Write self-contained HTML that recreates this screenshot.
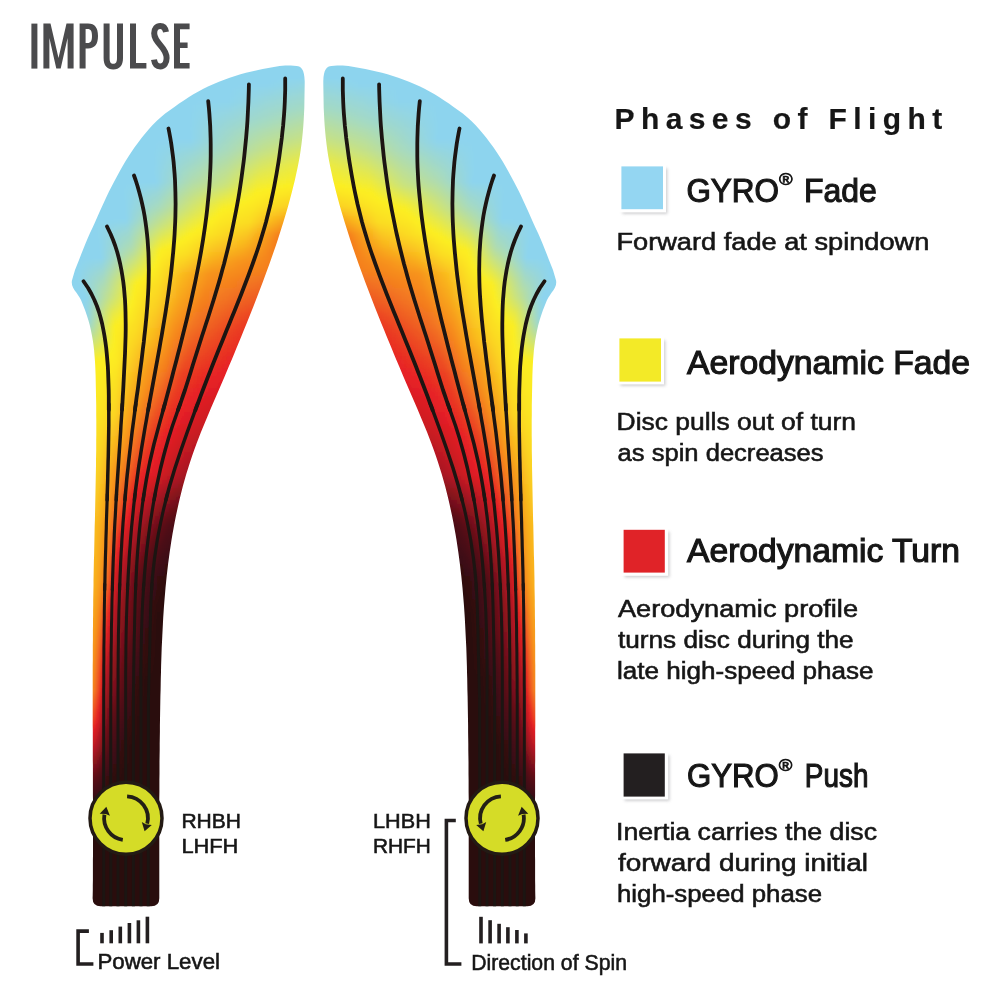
<!DOCTYPE html>
<html lang="en">
<head>
<meta charset="utf-8">
<title>IMPULSE - Phases of Flight</title>
<style>
html,body{margin:0;padding:0;background:#fff;}
body{width:1000px;height:1000px;overflow:hidden;position:relative;font-family:"Liberation Sans",sans-serif;}
svg{position:absolute;left:0;top:0;display:block;}
text{font-family:"Liberation Sans",sans-serif;fill:#161616;stroke:#161616;stroke-width:.55px;}
.b{stroke-width:.2px;}
.h{stroke-width:1.15px;}
.r{stroke-width:.7px;}
.b{font-weight:bold;}
</style>
</head>
<body>
<svg width="1000" height="1000" viewBox="0 0 1000 1000">
<defs>
<linearGradient id="gb" gradientUnits="userSpaceOnUse" x1="50" y1="0" x2="330" y2="0"/>
<linearGradient id="g5" href="#gb"><stop offset="0.0285" stop-color="#8dd4ee"/><stop offset="0.7752" stop-color="#8dd4ee"/><stop offset="0.8748" stop-color="#90d5e9"/><stop offset="0.9095" stop-color="#91d5e7"/><stop offset="0.9595" stop-color="#91d5e7"/></linearGradient>
<linearGradient id="g6" href="#gb"><stop offset="0.0285" stop-color="#8dd4ee"/><stop offset="0.6376" stop-color="#8dd4ee"/><stop offset="0.7752" stop-color="#8ed4ec"/><stop offset="0.8748" stop-color="#93d5e4"/><stop offset="0.9095" stop-color="#94d6e1"/><stop offset="0.9595" stop-color="#94d6e1"/></linearGradient>
<linearGradient id="g7" href="#gb"><stop offset="0.0285" stop-color="#8dd4ee"/><stop offset="0.6375" stop-color="#8dd4ee"/><stop offset="0.7749" stop-color="#91d5e7"/><stop offset="0.8746" stop-color="#95d6df"/><stop offset="0.9094" stop-color="#97d6dc"/><stop offset="0.9594" stop-color="#97d6dc"/></linearGradient>
<linearGradient id="g8" href="#gb"><stop offset="0.0285" stop-color="#8dd4ee"/><stop offset="0.6373" stop-color="#8dd4ee"/><stop offset="0.7746" stop-color="#93d5e3"/><stop offset="0.8744" stop-color="#98d7da"/><stop offset="0.9092" stop-color="#9ad7d6"/><stop offset="0.9592" stop-color="#9ad7d6"/></linearGradient>
<linearGradient id="g9" href="#gb"><stop offset="0.0285" stop-color="#8dd4ee"/><stop offset="0.637" stop-color="#8dd4ee"/><stop offset="0.7741" stop-color="#96d6de"/><stop offset="0.874" stop-color="#9bd7d4"/><stop offset="0.909" stop-color="#9dd8d1"/><stop offset="0.959" stop-color="#9dd8d1"/></linearGradient>
<linearGradient id="g10" href="#gb"><stop offset="0.0285" stop-color="#8dd4ee"/><stop offset="0.4943" stop-color="#8dd4ee"/><stop offset="0.6369" stop-color="#8ed4ec"/><stop offset="0.7735" stop-color="#98d7da"/><stop offset="0.8736" stop-color="#9ed8cf"/><stop offset="0.9087" stop-color="#a0d8cc"/><stop offset="0.9587" stop-color="#a0d8cc"/></linearGradient>
<linearGradient id="g11" href="#gb"><stop offset="0.0285" stop-color="#8dd4ee"/><stop offset="0.495" stop-color="#8dd4ee"/><stop offset="0.6374" stop-color="#90d5e8"/><stop offset="0.7729" stop-color="#9bd7d5"/><stop offset="0.873" stop-color="#a0d9ca"/><stop offset="0.9083" stop-color="#a2d9c6"/><stop offset="0.9583" stop-color="#a2d9c6"/></linearGradient>
<linearGradient id="g12" href="#gb"><stop offset="0.0285" stop-color="#8dd4ee"/><stop offset="0.4957" stop-color="#8dd4ee"/><stop offset="0.6377" stop-color="#93d5e4"/><stop offset="0.7721" stop-color="#9dd8d0"/><stop offset="0.8724" stop-color="#a3d9c5"/><stop offset="0.9078" stop-color="#a5dac1"/><stop offset="0.9578" stop-color="#a5dac1"/></linearGradient>
<linearGradient id="g13" href="#gb"><stop offset="0.0285" stop-color="#8dd4ee"/><stop offset="0.4963" stop-color="#8dd4ee"/><stop offset="0.6379" stop-color="#95d6e0"/><stop offset="0.7712" stop-color="#a0d8cc"/><stop offset="0.8716" stop-color="#a7dabd"/><stop offset="0.9072" stop-color="#aadbb8"/><stop offset="0.9572" stop-color="#aadbb8"/></linearGradient>
<linearGradient id="g14" href="#gb"><stop offset="0.0285" stop-color="#8dd4ee"/><stop offset="0.4968" stop-color="#8dd4ee"/><stop offset="0.638" stop-color="#97d6dc"/><stop offset="0.7703" stop-color="#a2d9c7"/><stop offset="0.8707" stop-color="#abdbb6"/><stop offset="0.9065" stop-color="#afdcb0"/><stop offset="0.9565" stop-color="#afdcb0"/></linearGradient>
<linearGradient id="g15" href="#gb"><stop offset="0.0285" stop-color="#8dd4ee"/><stop offset="0.4973" stop-color="#8dd4ee"/><stop offset="0.638" stop-color="#99d7d7"/><stop offset="0.7692" stop-color="#a5dac1"/><stop offset="0.8697" stop-color="#b0dcae"/><stop offset="0.9057" stop-color="#b3dda7"/><stop offset="0.9557" stop-color="#b3dda7"/></linearGradient>
<linearGradient id="g16" href="#gb"><stop offset="0.0285" stop-color="#8dd4ee"/><stop offset="0.4976" stop-color="#8dd4ee"/><stop offset="0.6379" stop-color="#9bd7d3"/><stop offset="0.7681" stop-color="#a9dbba"/><stop offset="0.8685" stop-color="#b4dda6"/><stop offset="0.9047" stop-color="#b7dea0"/><stop offset="0.9547" stop-color="#b7dea0"/></linearGradient>
<linearGradient id="g17" href="#gb"><stop offset="0.0285" stop-color="#8dd4ee"/><stop offset="0.4985" stop-color="#8dd4ee"/><stop offset="0.6377" stop-color="#9ed8cf"/><stop offset="0.7668" stop-color="#aedcb2"/><stop offset="0.8672" stop-color="#b8de9f"/><stop offset="0.9036" stop-color="#bcdf98"/><stop offset="0.9536" stop-color="#bcdf98"/></linearGradient>
<linearGradient id="g18" href="#gb"><stop offset="0.0285" stop-color="#8dd4ee"/><stop offset="0.5001" stop-color="#8dd4ee"/><stop offset="0.6374" stop-color="#a0d8cb"/><stop offset="0.7655" stop-color="#b2ddaa"/><stop offset="0.8658" stop-color="#bcdf97"/><stop offset="0.9023" stop-color="#c0e090"/><stop offset="0.9523" stop-color="#c0e090"/></linearGradient>
<linearGradient id="g19" href="#gb"><stop offset="0.0285" stop-color="#8dd4ee"/><stop offset="0.5016" stop-color="#8dd4ee"/><stop offset="0.637" stop-color="#a2d9c7"/><stop offset="0.764" stop-color="#b6dea3"/><stop offset="0.8643" stop-color="#c0e08f"/><stop offset="0.9008" stop-color="#c4e189"/><stop offset="0.9508" stop-color="#c4e189"/></linearGradient>
<linearGradient id="g20" href="#gb"><stop offset="0.0285" stop-color="#8dd4ee"/><stop offset="0.366" stop-color="#8dd4ee"/><stop offset="0.503" stop-color="#8fd4eb"/><stop offset="0.6365" stop-color="#a4d9c3"/><stop offset="0.7625" stop-color="#badf9b"/><stop offset="0.8626" stop-color="#c5e186"/><stop offset="0.8992" stop-color="#c9e27f"/><stop offset="0.9492" stop-color="#c9e27f"/></linearGradient>
<linearGradient id="g21" href="#gb"><stop offset="0.0285" stop-color="#8dd4ee"/><stop offset="0.3671" stop-color="#8dd4ee"/><stop offset="0.5041" stop-color="#92d5e5"/><stop offset="0.6359" stop-color="#a7dabf"/><stop offset="0.7609" stop-color="#bee093"/><stop offset="0.8608" stop-color="#cbe27c"/><stop offset="0.8974" stop-color="#cfe474"/><stop offset="0.9474" stop-color="#cfe474"/></linearGradient>
<linearGradient id="g22" href="#gb"><stop offset="0.0285" stop-color="#8dd4ee"/><stop offset="0.3682" stop-color="#8dd4ee"/><stop offset="0.5052" stop-color="#95d6df"/><stop offset="0.6352" stop-color="#a9dabb"/><stop offset="0.7592" stop-color="#c2e08c"/><stop offset="0.8588" stop-color="#d0e471"/><stop offset="0.8954" stop-color="#d5e568"/><stop offset="0.9454" stop-color="#d5e568"/></linearGradient>
<linearGradient id="g23" href="#gb"><stop offset="0.0285" stop-color="#8dd4ee"/><stop offset="0.3691" stop-color="#8dd4ee"/><stop offset="0.506" stop-color="#99d7d8"/><stop offset="0.6344" stop-color="#addbb4"/><stop offset="0.7575" stop-color="#c8e282"/><stop offset="0.8567" stop-color="#d6e567"/><stop offset="0.8932" stop-color="#dbe65e"/><stop offset="0.9432" stop-color="#dbe65e"/></linearGradient>
<linearGradient id="g24" href="#gb"><stop offset="0.0285" stop-color="#8dd4ee"/><stop offset="0.3699" stop-color="#8dd4ee"/><stop offset="0.5068" stop-color="#9cd8d2"/><stop offset="0.6334" stop-color="#b0dcad"/><stop offset="0.7556" stop-color="#cde377"/><stop offset="0.8544" stop-color="#dce65c"/><stop offset="0.8908" stop-color="#e1e853"/><stop offset="0.9408" stop-color="#e1e853"/></linearGradient>
<linearGradient id="g25" href="#gb"><stop offset="0.0285" stop-color="#8dd4ee"/><stop offset="0.3707" stop-color="#8dd4ee"/><stop offset="0.5074" stop-color="#9fd8cc"/><stop offset="0.6324" stop-color="#b4dda6"/><stop offset="0.7537" stop-color="#d3e46d"/><stop offset="0.8521" stop-color="#e2e852"/><stop offset="0.8882" stop-color="#e7e948"/><stop offset="0.9382" stop-color="#e7e948"/></linearGradient>
<linearGradient id="g26" href="#gb"><stop offset="0.0285" stop-color="#8dd4ee"/><stop offset="0.3714" stop-color="#8dd4ee"/><stop offset="0.5078" stop-color="#a3d9c6"/><stop offset="0.6313" stop-color="#b8de9f"/><stop offset="0.7517" stop-color="#d8e663"/><stop offset="0.8496" stop-color="#e7e948"/><stop offset="0.8854" stop-color="#ecea3f"/><stop offset="0.9354" stop-color="#ecea3f"/></linearGradient>
<linearGradient id="g27" href="#gb"><stop offset="0.0285" stop-color="#8dd4ee"/><stop offset="0.372" stop-color="#8dd4ee"/><stop offset="0.5082" stop-color="#a6dac0"/><stop offset="0.6301" stop-color="#bcdf98"/><stop offset="0.7496" stop-color="#dee759"/><stop offset="0.8469" stop-color="#eaea41"/><stop offset="0.8825" stop-color="#efeb39"/><stop offset="0.9325" stop-color="#efeb39"/></linearGradient>
<linearGradient id="g28" href="#gb"><stop offset="0.0285" stop-color="#8dd4ee"/><stop offset="0.3725" stop-color="#8dd4ee"/><stop offset="0.5084" stop-color="#a9dbba"/><stop offset="0.6288" stop-color="#c0e091"/><stop offset="0.7474" stop-color="#e3e84f"/><stop offset="0.8442" stop-color="#eeeb3a"/><stop offset="0.8795" stop-color="#f2ec33"/><stop offset="0.9295" stop-color="#f2ec33"/></linearGradient>
<linearGradient id="g29" href="#gb"><stop offset="0.0285" stop-color="#8dd4ee"/><stop offset="0.3745" stop-color="#8dd4ee"/><stop offset="0.5084" stop-color="#addbb4"/><stop offset="0.6274" stop-color="#c3e18a"/><stop offset="0.7451" stop-color="#e8e945"/><stop offset="0.8413" stop-color="#f2ec34"/><stop offset="0.8763" stop-color="#f5ec2d"/><stop offset="0.9263" stop-color="#f5ec2d"/></linearGradient>
<linearGradient id="g30" href="#gb"><stop offset="0.0285" stop-color="#8dd4ee"/><stop offset="0.3773" stop-color="#8dd4ee"/><stop offset="0.5084" stop-color="#b1dcac"/><stop offset="0.626" stop-color="#c7e283"/><stop offset="0.7428" stop-color="#eeeb3b"/><stop offset="0.8383" stop-color="#f6ed2d"/><stop offset="0.8729" stop-color="#f8ed28"/><stop offset="0.9229" stop-color="#f8ed28"/></linearGradient>
<linearGradient id="g31" href="#gb"><stop offset="0.0285" stop-color="#8dd4ee"/><stop offset="0.2581" stop-color="#8dd4ee"/><stop offset="0.3799" stop-color="#91d5e6"/><stop offset="0.5082" stop-color="#b6dea2"/><stop offset="0.6244" stop-color="#cce379"/><stop offset="0.7403" stop-color="#f3ec31"/><stop offset="0.8352" stop-color="#faee24"/><stop offset="0.8562" stop-color="#fcee21"/><stop offset="0.8694" stop-color="#fced21"/><stop offset="0.9194" stop-color="#fced21"/></linearGradient>
<linearGradient id="g32" href="#gb"><stop offset="0.0285" stop-color="#8dd4ee"/><stop offset="0.2602" stop-color="#8dd4ee"/><stop offset="0.3822" stop-color="#96d6de"/><stop offset="0.5079" stop-color="#bbdf99"/><stop offset="0.6227" stop-color="#d4e56a"/><stop offset="0.7378" stop-color="#f8ed28"/><stop offset="0.7807" stop-color="#fcee21"/><stop offset="0.832" stop-color="#fcea21"/><stop offset="0.8659" stop-color="#fce821"/><stop offset="0.9159" stop-color="#fce821"/></linearGradient>
<linearGradient id="g33" href="#gb"><stop offset="0.0285" stop-color="#8dd4ee"/><stop offset="0.2621" stop-color="#8dd4ee"/><stop offset="0.3844" stop-color="#9ad7d6"/><stop offset="0.5075" stop-color="#c0e08f"/><stop offset="0.621" stop-color="#dde75b"/><stop offset="0.7351" stop-color="#fcee22"/><stop offset="0.7387" stop-color="#fcee21"/><stop offset="0.8287" stop-color="#fce621"/><stop offset="0.8622" stop-color="#fbe321"/><stop offset="0.9122" stop-color="#fbe321"/></linearGradient>
<linearGradient id="g34" href="#gb"><stop offset="0.0285" stop-color="#8dd4ee"/><stop offset="0.264" stop-color="#8dd4ee"/><stop offset="0.3863" stop-color="#9ed8ce"/><stop offset="0.5069" stop-color="#c6e185"/><stop offset="0.6191" stop-color="#e5e94c"/><stop offset="0.72" stop-color="#fcee21"/><stop offset="0.7324" stop-color="#fcec21"/><stop offset="0.8252" stop-color="#fbe121"/><stop offset="0.8583" stop-color="#fbdd20"/><stop offset="0.9083" stop-color="#fbdd20"/></linearGradient>
<linearGradient id="g35" href="#gb"><stop offset="0.0285" stop-color="#8dd4ee"/><stop offset="0.2657" stop-color="#8dd4ee"/><stop offset="0.3881" stop-color="#a2d9c7"/><stop offset="0.5063" stop-color="#cbe27c"/><stop offset="0.6172" stop-color="#edeb3c"/><stop offset="0.6969" stop-color="#fcee21"/><stop offset="0.7296" stop-color="#fce921"/><stop offset="0.8217" stop-color="#fbdc20"/><stop offset="0.8544" stop-color="#fbd820"/><stop offset="0.9044" stop-color="#fbd820"/></linearGradient>
<linearGradient id="g36" href="#gb"><stop offset="0.0285" stop-color="#8dd4ee"/><stop offset="0.2673" stop-color="#8dd4ee"/><stop offset="0.3896" stop-color="#a7dabf"/><stop offset="0.5055" stop-color="#d0e472"/><stop offset="0.6151" stop-color="#f5ec2d"/><stop offset="0.6611" stop-color="#fcee21"/><stop offset="0.7267" stop-color="#fce621"/><stop offset="0.8181" stop-color="#fbd720"/><stop offset="0.8504" stop-color="#fad220"/><stop offset="0.9004" stop-color="#fad220"/></linearGradient>
<linearGradient id="g37" href="#gb"><stop offset="0.0285" stop-color="#8dd4ee"/><stop offset="0.2687" stop-color="#8dd4ee"/><stop offset="0.391" stop-color="#acdbb4"/><stop offset="0.5046" stop-color="#d5e569"/><stop offset="0.613" stop-color="#faee24"/><stop offset="0.6255" stop-color="#fcee21"/><stop offset="0.7236" stop-color="#fbe421"/><stop offset="0.8143" stop-color="#face20"/><stop offset="0.8464" stop-color="#fac620"/><stop offset="0.8964" stop-color="#fac620"/></linearGradient>
<linearGradient id="g38" href="#gb"><stop offset="0.0285" stop-color="#8dd4ee"/><stop offset="0.2701" stop-color="#8dd4ee"/><stop offset="0.3922" stop-color="#b3dda7"/><stop offset="0.5037" stop-color="#dbe65d"/><stop offset="0.604" stop-color="#fcee21"/><stop offset="0.6108" stop-color="#fcec21"/><stop offset="0.7205" stop-color="#fbe121"/><stop offset="0.8105" stop-color="#fac420"/><stop offset="0.8422" stop-color="#f9ba1f"/><stop offset="0.8922" stop-color="#f9ba1f"/></linearGradient>
<linearGradient id="g39" href="#gb"><stop offset="0.0285" stop-color="#8dd4ee"/><stop offset="0.2713" stop-color="#8dd4ee"/><stop offset="0.3933" stop-color="#badf9a"/><stop offset="0.5026" stop-color="#e2e852"/><stop offset="0.5888" stop-color="#fcee21"/><stop offset="0.6085" stop-color="#fce921"/><stop offset="0.7173" stop-color="#fbde20"/><stop offset="0.8065" stop-color="#f9ba1f"/><stop offset="0.8379" stop-color="#f8ad1f"/><stop offset="0.8879" stop-color="#f8ad1f"/></linearGradient>
<linearGradient id="g40" href="#gb"><stop offset="0.0285" stop-color="#8dd4ee"/><stop offset="0.1617" stop-color="#8dd4ee"/><stop offset="0.2724" stop-color="#8fd5ea"/><stop offset="0.3941" stop-color="#c1e08d"/><stop offset="0.5014" stop-color="#e8e946"/><stop offset="0.5717" stop-color="#fcee21"/><stop offset="0.6061" stop-color="#fce621"/><stop offset="0.7139" stop-color="#fbdc20"/><stop offset="0.8024" stop-color="#f9b11f"/><stop offset="0.8336" stop-color="#f8a11e"/><stop offset="0.8836" stop-color="#f8a11e"/></linearGradient>
<linearGradient id="g41" href="#gb"><stop offset="0.0285" stop-color="#8dd4ee"/><stop offset="0.1617" stop-color="#8dd4ee"/><stop offset="0.2734" stop-color="#94d6e1"/><stop offset="0.3948" stop-color="#c8e280"/><stop offset="0.5001" stop-color="#eeeb3b"/><stop offset="0.5523" stop-color="#fcee21"/><stop offset="0.6037" stop-color="#fbe321"/><stop offset="0.7105" stop-color="#fbd520"/><stop offset="0.7983" stop-color="#f8a71f"/><stop offset="0.8292" stop-color="#f7981e"/><stop offset="0.8792" stop-color="#f7981e"/></linearGradient>
<linearGradient id="g42" href="#gb"><stop offset="0.0285" stop-color="#8dd4ee"/><stop offset="0.1648" stop-color="#8dd4ee"/><stop offset="0.2774" stop-color="#99d7d8"/><stop offset="0.3953" stop-color="#d1e471"/><stop offset="0.4987" stop-color="#f4ec2f"/><stop offset="0.5297" stop-color="#fcee21"/><stop offset="0.6011" stop-color="#fbe021"/><stop offset="0.7069" stop-color="#face20"/><stop offset="0.794" stop-color="#f89e1e"/><stop offset="0.8149" stop-color="#f7931e"/><stop offset="0.8247" stop-color="#f68c1e"/><stop offset="0.8747" stop-color="#f68c1e"/></linearGradient>
<linearGradient id="g43" href="#gb"><stop offset="0.0285" stop-color="#8dd4ee"/><stop offset="0.1681" stop-color="#8dd4ee"/><stop offset="0.2815" stop-color="#9ed8cf"/><stop offset="0.3957" stop-color="#d9e661"/><stop offset="0.4973" stop-color="#faee25"/><stop offset="0.5065" stop-color="#fcee21"/><stop offset="0.5985" stop-color="#fbdd20"/><stop offset="0.7032" stop-color="#fac720"/><stop offset="0.7896" stop-color="#f7951e"/><stop offset="0.7935" stop-color="#f7931e"/><stop offset="0.8201" stop-color="#f4801f"/><stop offset="0.8701" stop-color="#f4801f"/></linearGradient>
<linearGradient id="g44" href="#gb"><stop offset="0.0285" stop-color="#8dd4ee"/><stop offset="0.1712" stop-color="#8dd4ee"/><stop offset="0.2853" stop-color="#a2d9c6"/><stop offset="0.396" stop-color="#e2e851"/><stop offset="0.487" stop-color="#fcee21"/><stop offset="0.4957" stop-color="#fcec21"/><stop offset="0.5958" stop-color="#fbd720"/><stop offset="0.6994" stop-color="#fac020"/><stop offset="0.7829" stop-color="#f7931e"/><stop offset="0.7851" stop-color="#f7921e"/><stop offset="0.8155" stop-color="#f47d1f"/><stop offset="0.8655" stop-color="#f47d1f"/></linearGradient>
<linearGradient id="g45" href="#gb"><stop offset="0.0285" stop-color="#8dd4ee"/><stop offset="0.1739" stop-color="#8dd4ee"/><stop offset="0.2886" stop-color="#a7dabe"/><stop offset="0.3961" stop-color="#ebea41"/><stop offset="0.4655" stop-color="#fcee21"/><stop offset="0.4941" stop-color="#fce821"/><stop offset="0.593" stop-color="#fad020"/><stop offset="0.6955" stop-color="#f9ba1f"/><stop offset="0.7749" stop-color="#f7931e"/><stop offset="0.7805" stop-color="#f6901e"/><stop offset="0.8107" stop-color="#f47d1f"/><stop offset="0.8607" stop-color="#f47d1f"/></linearGradient>
<linearGradient id="g46" href="#gb"><stop offset="0.0285" stop-color="#8dd4ee"/><stop offset="0.1765" stop-color="#8dd4ee"/><stop offset="0.2917" stop-color="#acdbb5"/><stop offset="0.396" stop-color="#f3ec31"/><stop offset="0.4369" stop-color="#fcee21"/><stop offset="0.4923" stop-color="#fbe421"/><stop offset="0.5901" stop-color="#fac920"/><stop offset="0.6916" stop-color="#f9b31f"/><stop offset="0.7658" stop-color="#f7931e"/><stop offset="0.7758" stop-color="#f68e1e"/><stop offset="0.806" stop-color="#f47e1f"/><stop offset="0.856" stop-color="#f47e1f"/></linearGradient>
<linearGradient id="g47" href="#gb"><stop offset="0.0285" stop-color="#8dd4ee"/><stop offset="0.1788" stop-color="#8dd4ee"/><stop offset="0.2944" stop-color="#b3dda9"/><stop offset="0.3958" stop-color="#fcee21"/><stop offset="0.4905" stop-color="#fbe121"/><stop offset="0.5872" stop-color="#fac220"/><stop offset="0.6875" stop-color="#f8ab1f"/><stop offset="0.7548" stop-color="#f7931e"/><stop offset="0.771" stop-color="#f68c1e"/><stop offset="0.8011" stop-color="#f47e1f"/><stop offset="0.8511" stop-color="#f47e1f"/></linearGradient>
<linearGradient id="g48" href="#gb"><stop offset="0.0285" stop-color="#8dd4ee"/><stop offset="0.1809" stop-color="#8dd4ee"/><stop offset="0.2969" stop-color="#bbdf99"/><stop offset="0.3916" stop-color="#fcee21"/><stop offset="0.3955" stop-color="#fcec21"/><stop offset="0.4886" stop-color="#fbdd20"/><stop offset="0.5842" stop-color="#f9bb1f"/><stop offset="0.6833" stop-color="#f8a41f"/><stop offset="0.7408" stop-color="#f7931e"/><stop offset="0.7661" stop-color="#f68a1f"/><stop offset="0.7962" stop-color="#f47f1f"/><stop offset="0.8462" stop-color="#f47f1f"/></linearGradient>
<linearGradient id="g49" href="#gb"><stop offset="0.0285" stop-color="#8dd4ee"/><stop offset="0.1828" stop-color="#8dd4ee"/><stop offset="0.299" stop-color="#c4e189"/><stop offset="0.3868" stop-color="#fcee21"/><stop offset="0.3951" stop-color="#fcea21"/><stop offset="0.4867" stop-color="#fbd620"/><stop offset="0.5811" stop-color="#f9b31f"/><stop offset="0.679" stop-color="#f89c1e"/><stop offset="0.721" stop-color="#f7931e"/><stop offset="0.7612" stop-color="#f5881f"/><stop offset="0.7912" stop-color="#f4801f"/><stop offset="0.8412" stop-color="#f4801f"/></linearGradient>
<linearGradient id="g50" href="#gb"><stop offset="0.0285" stop-color="#8dd4ee"/><stop offset="0.0991" stop-color="#8dd4ee"/><stop offset="0.1845" stop-color="#92d5e5"/><stop offset="0.3009" stop-color="#cde379"/><stop offset="0.3811" stop-color="#fcee21"/><stop offset="0.3946" stop-color="#fce721"/><stop offset="0.4846" stop-color="#facf20"/><stop offset="0.5779" stop-color="#f8ab1f"/><stop offset="0.6746" stop-color="#f7951e"/><stop offset="0.6869" stop-color="#f7931e"/><stop offset="0.7561" stop-color="#f5861f"/><stop offset="0.7861" stop-color="#f4801f"/><stop offset="0.8361" stop-color="#f4801f"/></linearGradient>
<linearGradient id="g51" href="#gb"><stop offset="0.0285" stop-color="#8dd4ee"/><stop offset="0.0991" stop-color="#8dd4ee"/><stop offset="0.186" stop-color="#96d6dd"/><stop offset="0.3025" stop-color="#d5e569"/><stop offset="0.3742" stop-color="#fcee21"/><stop offset="0.3939" stop-color="#fce521"/><stop offset="0.4825" stop-color="#fac820"/><stop offset="0.5747" stop-color="#f8a31f"/><stop offset="0.6587" stop-color="#f7931e"/><stop offset="0.6702" stop-color="#f7901e"/><stop offset="0.751" stop-color="#f5841f"/><stop offset="0.781" stop-color="#f47f1f"/><stop offset="0.831" stop-color="#f47f1f"/></linearGradient>
<linearGradient id="g52" href="#gb"><stop offset="0.0285" stop-color="#8dd4ee"/><stop offset="0.0991" stop-color="#8dd4ee"/><stop offset="0.1874" stop-color="#9bd7d4"/><stop offset="0.3039" stop-color="#dee759"/><stop offset="0.3658" stop-color="#fcee21"/><stop offset="0.3931" stop-color="#fbe321"/><stop offset="0.4803" stop-color="#fac020"/><stop offset="0.5714" stop-color="#f79b1e"/><stop offset="0.629" stop-color="#f7931e"/><stop offset="0.6657" stop-color="#f68d1e"/><stop offset="0.7458" stop-color="#f4821f"/><stop offset="0.7758" stop-color="#f47e1f"/><stop offset="0.8258" stop-color="#f47e1f"/></linearGradient>
<linearGradient id="g53" href="#gb"><stop offset="0.0285" stop-color="#8dd4ee"/><stop offset="0.0991" stop-color="#8dd4ee"/><stop offset="0.1886" stop-color="#a0d8cc"/><stop offset="0.3051" stop-color="#e6e949"/><stop offset="0.3552" stop-color="#fcee21"/><stop offset="0.3922" stop-color="#fbe121"/><stop offset="0.4781" stop-color="#f9b91f"/><stop offset="0.568" stop-color="#f7931e"/><stop offset="0.661" stop-color="#f5891f"/><stop offset="0.7406" stop-color="#f47d1f"/><stop offset="0.7706" stop-color="#f37920"/><stop offset="0.8206" stop-color="#f37920"/></linearGradient>
<linearGradient id="g54" href="#gb"><stop offset="0.0285" stop-color="#8dd4ee"/><stop offset="0.0991" stop-color="#8dd4ee"/><stop offset="0.1897" stop-color="#a4d9c3"/><stop offset="0.3061" stop-color="#efeb39"/><stop offset="0.341" stop-color="#fcee21"/><stop offset="0.3912" stop-color="#fbdf20"/><stop offset="0.4758" stop-color="#f9b51f"/><stop offset="0.5593" stop-color="#f7931e"/><stop offset="0.5645" stop-color="#f7901e"/><stop offset="0.6564" stop-color="#f5851f"/><stop offset="0.7352" stop-color="#f37920"/><stop offset="0.7653" stop-color="#f27420"/><stop offset="0.8153" stop-color="#f27420"/></linearGradient>
<linearGradient id="g55" href="#gb"><stop offset="0.0285" stop-color="#8dd4ee"/><stop offset="0.1001" stop-color="#8dd4ee"/><stop offset="0.1917" stop-color="#a9dabb"/><stop offset="0.3069" stop-color="#f8ed29"/><stop offset="0.3209" stop-color="#fcee21"/><stop offset="0.3901" stop-color="#fbdd20"/><stop offset="0.4734" stop-color="#f9b21f"/><stop offset="0.5505" stop-color="#f7931e"/><stop offset="0.561" stop-color="#f68e1e"/><stop offset="0.6516" stop-color="#f4811f"/><stop offset="0.7299" stop-color="#f27420"/><stop offset="0.76" stop-color="#f26f20"/><stop offset="0.81" stop-color="#f26f20"/></linearGradient>
<linearGradient id="g56" href="#gb"><stop offset="0.0362" stop-color="#8dd4ee"/><stop offset="0.1089" stop-color="#8dd4ee"/><stop offset="0.1974" stop-color="#b0dcae"/><stop offset="0.3061" stop-color="#fcee21"/><stop offset="0.3075" stop-color="#fced21"/><stop offset="0.389" stop-color="#fbda20"/><stop offset="0.4709" stop-color="#f9af1f"/><stop offset="0.5415" stop-color="#f7931e"/><stop offset="0.5574" stop-color="#f68b1e"/><stop offset="0.6468" stop-color="#f47e1f"/><stop offset="0.7244" stop-color="#f26f20"/><stop offset="0.7546" stop-color="#f16a20"/><stop offset="0.8046" stop-color="#f16a20"/></linearGradient>
<linearGradient id="g57" href="#gb"><stop offset="0.0436" stop-color="#8dd4ee"/><stop offset="0.1169" stop-color="#8dd4ee"/><stop offset="0.2026" stop-color="#b7dea1"/><stop offset="0.3037" stop-color="#fcee21"/><stop offset="0.3079" stop-color="#fcec21"/><stop offset="0.3877" stop-color="#fbd820"/><stop offset="0.4684" stop-color="#f8ac1f"/><stop offset="0.5323" stop-color="#f7931e"/><stop offset="0.5538" stop-color="#f5881f"/><stop offset="0.6419" stop-color="#f37a20"/><stop offset="0.7189" stop-color="#f16b20"/><stop offset="0.7492" stop-color="#f06521"/><stop offset="0.7992" stop-color="#f06521"/></linearGradient>
<linearGradient id="g58" href="#gb"><stop offset="0.0506" stop-color="#8dd4ee"/><stop offset="0.1244" stop-color="#8dd4ee"/><stop offset="0.2072" stop-color="#bedf94"/><stop offset="0.3009" stop-color="#fcee21"/><stop offset="0.3082" stop-color="#fcea21"/><stop offset="0.3863" stop-color="#fbd620"/><stop offset="0.4659" stop-color="#f8aa1f"/><stop offset="0.523" stop-color="#f7931e"/><stop offset="0.5501" stop-color="#f5851f"/><stop offset="0.6369" stop-color="#f37620"/><stop offset="0.7134" stop-color="#f06621"/><stop offset="0.7437" stop-color="#f06121"/><stop offset="0.7937" stop-color="#f06121"/></linearGradient>
<linearGradient id="g59" href="#gb"><stop offset="0.0572" stop-color="#8dd4ee"/><stop offset="0.1313" stop-color="#8dd4ee"/><stop offset="0.2113" stop-color="#c4e188"/><stop offset="0.2978" stop-color="#fcee21"/><stop offset="0.3083" stop-color="#fce821"/><stop offset="0.3849" stop-color="#fbd420"/><stop offset="0.4632" stop-color="#f8a71f"/><stop offset="0.5135" stop-color="#f7931e"/><stop offset="0.5463" stop-color="#f5831f"/><stop offset="0.6319" stop-color="#f27320"/><stop offset="0.7078" stop-color="#f06221"/><stop offset="0.7382" stop-color="#ef5c21"/><stop offset="0.7882" stop-color="#ef5c21"/></linearGradient>
<linearGradient id="g60" href="#gb"><stop offset="0.0635" stop-color="#8dd4ee"/><stop offset="0.1135" stop-color="#8dd4ee"/><stop offset="0.1376" stop-color="#93d5e3"/><stop offset="0.2149" stop-color="#cde377"/><stop offset="0.2936" stop-color="#fcee21"/><stop offset="0.3083" stop-color="#fce721"/><stop offset="0.3834" stop-color="#fad120"/><stop offset="0.4606" stop-color="#f8a41f"/><stop offset="0.5038" stop-color="#f7931e"/><stop offset="0.5425" stop-color="#f4801f"/><stop offset="0.6269" stop-color="#f26f20"/><stop offset="0.7022" stop-color="#ef5d21"/><stop offset="0.7326" stop-color="#ee5722"/><stop offset="0.7826" stop-color="#ee5722"/></linearGradient>
<linearGradient id="g61" href="#gb"><stop offset="0.0694" stop-color="#8dd4ee"/><stop offset="0.1194" stop-color="#8dd4ee"/><stop offset="0.1434" stop-color="#99d7d8"/><stop offset="0.2182" stop-color="#d6e567"/><stop offset="0.2884" stop-color="#fcee21"/><stop offset="0.3082" stop-color="#fce521"/><stop offset="0.3818" stop-color="#facf20"/><stop offset="0.4578" stop-color="#f8a11e"/><stop offset="0.4939" stop-color="#f7931e"/><stop offset="0.5386" stop-color="#f47d1f"/><stop offset="0.6218" stop-color="#f16b20"/><stop offset="0.6965" stop-color="#ee5822"/><stop offset="0.727" stop-color="#ed5222"/><stop offset="0.777" stop-color="#ed5222"/></linearGradient>
<linearGradient id="g62" href="#gb"><stop offset="0.0749" stop-color="#8dd4ee"/><stop offset="0.1249" stop-color="#8dd4ee"/><stop offset="0.1487" stop-color="#9fd8cc"/><stop offset="0.221" stop-color="#dfe756"/><stop offset="0.2816" stop-color="#fcee21"/><stop offset="0.3079" stop-color="#fbe421"/><stop offset="0.3801" stop-color="#facc20"/><stop offset="0.4551" stop-color="#f89e1e"/><stop offset="0.4839" stop-color="#f7931e"/><stop offset="0.5346" stop-color="#f37b1f"/><stop offset="0.6166" stop-color="#f16721"/><stop offset="0.6908" stop-color="#ee5422"/><stop offset="0.7214" stop-color="#ed4d22"/><stop offset="0.7714" stop-color="#ed4d22"/></linearGradient>
<linearGradient id="g63" href="#gb"><stop offset="0.0799" stop-color="#8ed4ec"/><stop offset="0.1299" stop-color="#8ed4ec"/><stop offset="0.1535" stop-color="#a5dac1"/><stop offset="0.2235" stop-color="#e7e947"/><stop offset="0.2728" stop-color="#fcee21"/><stop offset="0.3075" stop-color="#fbe221"/><stop offset="0.3784" stop-color="#fac920"/><stop offset="0.4523" stop-color="#f79b1e"/><stop offset="0.4736" stop-color="#f7931e"/><stop offset="0.5307" stop-color="#f37820"/><stop offset="0.6115" stop-color="#f06421"/><stop offset="0.6851" stop-color="#ed4f22"/><stop offset="0.7157" stop-color="#ec4823"/><stop offset="0.7657" stop-color="#ec4823"/></linearGradient>
<linearGradient id="g64" href="#gb"><stop offset="0.0846" stop-color="#94d6e1"/><stop offset="0.1346" stop-color="#94d6e1"/><stop offset="0.1579" stop-color="#abdbb6"/><stop offset="0.2256" stop-color="#eeeb3b"/><stop offset="0.2635" stop-color="#fcee21"/><stop offset="0.307" stop-color="#fbe121"/><stop offset="0.3766" stop-color="#fac620"/><stop offset="0.4494" stop-color="#f7981e"/><stop offset="0.4632" stop-color="#f7931e"/><stop offset="0.5267" stop-color="#f37520"/><stop offset="0.6062" stop-color="#ef6021"/><stop offset="0.6793" stop-color="#ec4b22"/><stop offset="0.71" stop-color="#eb4323"/><stop offset="0.76" stop-color="#eb4323"/></linearGradient>
<linearGradient id="g65" href="#gb"><stop offset="0.0888" stop-color="#9bd7d4"/><stop offset="0.1388" stop-color="#9bd7d4"/><stop offset="0.1618" stop-color="#b2dda9"/><stop offset="0.2275" stop-color="#f4ec30"/><stop offset="0.2513" stop-color="#fcee21"/><stop offset="0.3064" stop-color="#fbdf21"/><stop offset="0.3747" stop-color="#fac420"/><stop offset="0.4465" stop-color="#f7951e"/><stop offset="0.4525" stop-color="#f7931e"/><stop offset="0.5226" stop-color="#f27320"/><stop offset="0.601" stop-color="#ef5c21"/><stop offset="0.6735" stop-color="#ec4623"/><stop offset="0.7042" stop-color="#ea3e23"/><stop offset="0.7542" stop-color="#ea3e23"/></linearGradient>
<linearGradient id="g66" href="#gb"><stop offset="0.0926" stop-color="#a3d9c5"/><stop offset="0.1426" stop-color="#a3d9c5"/><stop offset="0.1653" stop-color="#badf9b"/><stop offset="0.2291" stop-color="#faee24"/><stop offset="0.2347" stop-color="#fcee21"/><stop offset="0.3057" stop-color="#fbdd20"/><stop offset="0.3728" stop-color="#fac120"/><stop offset="0.443" stop-color="#f7931e"/><stop offset="0.4436" stop-color="#f7921e"/><stop offset="0.5185" stop-color="#f27020"/><stop offset="0.5958" stop-color="#ee5922"/><stop offset="0.6677" stop-color="#eb4223"/><stop offset="0.6984" stop-color="#ea3a23"/><stop offset="0.7484" stop-color="#ea3a23"/></linearGradient>
<linearGradient id="g67" href="#gb"><stop offset="0.096" stop-color="#addcb3"/><stop offset="0.146" stop-color="#addcb3"/><stop offset="0.1684" stop-color="#c2e08d"/><stop offset="0.23" stop-color="#fcee21"/><stop offset="0.2305" stop-color="#fcee21"/><stop offset="0.3049" stop-color="#fbdc20"/><stop offset="0.3709" stop-color="#f9be1f"/><stop offset="0.4375" stop-color="#f7931e"/><stop offset="0.4406" stop-color="#f7901e"/><stop offset="0.5145" stop-color="#f16c20"/><stop offset="0.5906" stop-color="#e52"/><stop offset="0.6619" stop-color="#eb3f23"/><stop offset="0.6926" stop-color="#e93824"/><stop offset="0.7426" stop-color="#e93824"/></linearGradient>
<linearGradient id="g68" href="#gb"><stop offset="0.0989" stop-color="#b7dea0"/><stop offset="0.1489" stop-color="#b7dea0"/><stop offset="0.1712" stop-color="#c9e27e"/><stop offset="0.2303" stop-color="#fcee21"/><stop offset="0.2317" stop-color="#fced21"/><stop offset="0.304" stop-color="#fbd920"/><stop offset="0.3689" stop-color="#f9bb1f"/><stop offset="0.4319" stop-color="#f7931e"/><stop offset="0.4376" stop-color="#f68e1e"/><stop offset="0.5103" stop-color="#f16821"/><stop offset="0.5853" stop-color="#ed5222"/><stop offset="0.6561" stop-color="#ea3d23"/><stop offset="0.6868" stop-color="#e93524"/><stop offset="0.7368" stop-color="#e93524"/></linearGradient>
<linearGradient id="g69" href="#gb"><stop offset="0.1015" stop-color="#c2e08d"/><stop offset="0.1515" stop-color="#c2e08d"/><stop offset="0.1736" stop-color="#d1e470"/><stop offset="0.2303" stop-color="#fcee21"/><stop offset="0.2327" stop-color="#fcec21"/><stop offset="0.3031" stop-color="#fbd720"/><stop offset="0.3669" stop-color="#f9b91f"/><stop offset="0.4263" stop-color="#f7931e"/><stop offset="0.4346" stop-color="#f68c1e"/><stop offset="0.5062" stop-color="#f06521"/><stop offset="0.5801" stop-color="#ed4f22"/><stop offset="0.6502" stop-color="#ea3a23"/><stop offset="0.6809" stop-color="#e93324"/><stop offset="0.7309" stop-color="#e93324"/></linearGradient>
<linearGradient id="g70" href="#gb"><stop offset="0.1037" stop-color="#cce37a"/><stop offset="0.1537" stop-color="#cce37a"/><stop offset="0.1758" stop-color="#d9e662"/><stop offset="0.2297" stop-color="#fcee21"/><stop offset="0.2336" stop-color="#fcec21"/><stop offset="0.3021" stop-color="#fbd420"/><stop offset="0.3648" stop-color="#f9b51f"/><stop offset="0.4203" stop-color="#f7931e"/><stop offset="0.4315" stop-color="#f68a1f"/><stop offset="0.5021" stop-color="#f06121"/><stop offset="0.5749" stop-color="#ec4b22"/><stop offset="0.6444" stop-color="#ea3824"/><stop offset="0.6751" stop-color="#e93124"/><stop offset="0.7251" stop-color="#e93124"/></linearGradient>
<linearGradient id="g71" href="#gb"><stop offset="0.1056" stop-color="#d6e567"/><stop offset="0.1556" stop-color="#d6e567"/><stop offset="0.1777" stop-color="#e1e853"/><stop offset="0.2284" stop-color="#fcee21"/><stop offset="0.2343" stop-color="#fceb21"/><stop offset="0.301" stop-color="#fad220"/><stop offset="0.3627" stop-color="#f9b11f"/><stop offset="0.4139" stop-color="#f7931e"/><stop offset="0.4284" stop-color="#f5881f"/><stop offset="0.498" stop-color="#ef5d21"/><stop offset="0.5697" stop-color="#ec4823"/><stop offset="0.6386" stop-color="#e93524"/><stop offset="0.6692" stop-color="#e82f24"/><stop offset="0.7192" stop-color="#e82f24"/></linearGradient>
<linearGradient id="g72" href="#gb"><stop offset="0.1073" stop-color="#e0e854"/><stop offset="0.1573" stop-color="#e0e854"/><stop offset="0.1793" stop-color="#e9e945"/><stop offset="0.2257" stop-color="#fcee21"/><stop offset="0.2349" stop-color="#fceb21"/><stop offset="0.2999" stop-color="#facf20"/><stop offset="0.3606" stop-color="#f8ac1f"/><stop offset="0.4069" stop-color="#f7931e"/><stop offset="0.4253" stop-color="#f5861f"/><stop offset="0.4939" stop-color="#ee5a22"/><stop offset="0.5645" stop-color="#eb4523"/><stop offset="0.6327" stop-color="#e93324"/><stop offset="0.6633" stop-color="#e82c24"/><stop offset="0.7133" stop-color="#e82c24"/></linearGradient>
<linearGradient id="g73" href="#gb"><stop offset="0.1086" stop-color="#ebea41"/><stop offset="0.1586" stop-color="#ebea41"/><stop offset="0.1808" stop-color="#f0eb37"/><stop offset="0.22" stop-color="#fcee21"/><stop offset="0.2353" stop-color="#fcea21"/><stop offset="0.2987" stop-color="#facd20"/><stop offset="0.3584" stop-color="#f8a81f"/><stop offset="0.3994" stop-color="#f7931e"/><stop offset="0.4222" stop-color="#f5841f"/><stop offset="0.4898" stop-color="#ee5622"/><stop offset="0.5594" stop-color="#eb4223"/><stop offset="0.6269" stop-color="#e83024"/><stop offset="0.6573" stop-color="#e82a24"/><stop offset="0.7073" stop-color="#e82a24"/></linearGradient>
<linearGradient id="g74" href="#gb"><stop offset="0.1098" stop-color="#f5ec2e"/><stop offset="0.1598" stop-color="#f5ec2e"/><stop offset="0.182" stop-color="#f8ed28"/><stop offset="0.2049" stop-color="#fcee21"/><stop offset="0.2357" stop-color="#fcea21"/><stop offset="0.2975" stop-color="#faca20"/><stop offset="0.3563" stop-color="#f8a41f"/><stop offset="0.3912" stop-color="#f7931e"/><stop offset="0.419" stop-color="#f5821f"/><stop offset="0.4857" stop-color="#ed5222"/><stop offset="0.5543" stop-color="#ea3e23"/><stop offset="0.6211" stop-color="#e82e24"/><stop offset="0.6514" stop-color="#e72825"/><stop offset="0.7014" stop-color="#e72825"/></linearGradient>
<linearGradient id="g75" href="#gb"><stop offset="0.1107" stop-color="#fbee24"/><stop offset="0.1607" stop-color="#fbee24"/><stop offset="0.1765" stop-color="#fcee21"/><stop offset="0.183" stop-color="#fcee21"/><stop offset="0.2359" stop-color="#fce921"/><stop offset="0.2963" stop-color="#fac820"/><stop offset="0.3541" stop-color="#f89f1e"/><stop offset="0.382" stop-color="#f7931e"/><stop offset="0.4159" stop-color="#f4801f"/><stop offset="0.4816" stop-color="#ed4e22"/><stop offset="0.5493" stop-color="#ea3b23"/><stop offset="0.6152" stop-color="#e82b24"/><stop offset="0.6454" stop-color="#e72625"/><stop offset="0.6954" stop-color="#e72625"/></linearGradient>
<linearGradient id="g76" href="#gb"><stop offset="0.1115" stop-color="#fbee22"/><stop offset="0.1615" stop-color="#fbee22"/><stop offset="0.1667" stop-color="#fcee21"/><stop offset="0.1839" stop-color="#fced21"/><stop offset="0.2361" stop-color="#fce721"/><stop offset="0.2951" stop-color="#fac520"/><stop offset="0.3519" stop-color="#f79c1e"/><stop offset="0.3727" stop-color="#f7931e"/><stop offset="0.4127" stop-color="#f47e1f"/><stop offset="0.4776" stop-color="#ec4b22"/><stop offset="0.5442" stop-color="#ea3824"/><stop offset="0.6094" stop-color="#e72924"/><stop offset="0.6394" stop-color="#e72425"/><stop offset="0.6894" stop-color="#e72425"/></linearGradient>
<linearGradient id="g77" href="#gb"><stop offset="0.1121" stop-color="#fcee21"/><stop offset="0.1621" stop-color="#fcee21"/><stop offset="0.1846" stop-color="#fcec21"/><stop offset="0.2361" stop-color="#fce521"/><stop offset="0.2938" stop-color="#fac320"/><stop offset="0.3496" stop-color="#f79a1e"/><stop offset="0.366" stop-color="#f7931e"/><stop offset="0.4095" stop-color="#f47c1f"/><stop offset="0.4735" stop-color="#ec4723"/><stop offset="0.5392" stop-color="#e93424"/><stop offset="0.6036" stop-color="#e72625"/><stop offset="0.6334" stop-color="#e62125"/><stop offset="0.6834" stop-color="#e62125"/></linearGradient>
<linearGradient id="g78" href="#gb"><stop offset="0.1126" stop-color="#fced21"/><stop offset="0.1626" stop-color="#fced21"/><stop offset="0.1852" stop-color="#fceb21"/><stop offset="0.2361" stop-color="#fbe421"/><stop offset="0.2925" stop-color="#f9c01f"/><stop offset="0.3474" stop-color="#f7981e"/><stop offset="0.3587" stop-color="#f7931e"/><stop offset="0.4064" stop-color="#f37820"/><stop offset="0.4694" stop-color="#eb4323"/><stop offset="0.5342" stop-color="#e93124"/><stop offset="0.5978" stop-color="#e72425"/><stop offset="0.6216" stop-color="#e62025"/><stop offset="0.6274" stop-color="#e52025"/><stop offset="0.6774" stop-color="#e52025"/></linearGradient>
<linearGradient id="g79" href="#gb"><stop offset="0.113" stop-color="#fcec21"/><stop offset="0.163" stop-color="#fcec21"/><stop offset="0.1857" stop-color="#fcea21"/><stop offset="0.236" stop-color="#fbe221"/><stop offset="0.2912" stop-color="#f9bd1f"/><stop offset="0.3451" stop-color="#f7961e"/><stop offset="0.352" stop-color="#f7931e"/><stop offset="0.4032" stop-color="#f37520"/><stop offset="0.4653" stop-color="#eb4123"/><stop offset="0.5292" stop-color="#e82e24"/><stop offset="0.592" stop-color="#e62125"/><stop offset="0.6003" stop-color="#e62025"/><stop offset="0.6213" stop-color="#e42025"/><stop offset="0.6713" stop-color="#e42025"/></linearGradient>
<linearGradient id="g80" href="#gb"><stop offset="0.1134" stop-color="#fceb21"/><stop offset="0.1634" stop-color="#fceb21"/><stop offset="0.1861" stop-color="#fce921"/><stop offset="0.2359" stop-color="#fbe021"/><stop offset="0.2899" stop-color="#f9bb1f"/><stop offset="0.3429" stop-color="#f7941e"/><stop offset="0.3456" stop-color="#f7931e"/><stop offset="0.4" stop-color="#f27120"/><stop offset="0.4612" stop-color="#eb3f23"/><stop offset="0.5242" stop-color="#e82c24"/><stop offset="0.5789" stop-color="#e62025"/><stop offset="0.5861" stop-color="#e52025"/><stop offset="0.6152" stop-color="#e21f25"/><stop offset="0.6652" stop-color="#e21f25"/></linearGradient>
<linearGradient id="g81" href="#gb"><stop offset="0.1137" stop-color="#fceb21"/><stop offset="0.1637" stop-color="#fceb21"/><stop offset="0.1865" stop-color="#fce821"/><stop offset="0.2357" stop-color="#fbdf20"/><stop offset="0.2885" stop-color="#f9b81f"/><stop offset="0.34" stop-color="#f7931e"/><stop offset="0.3406" stop-color="#f7921e"/><stop offset="0.3968" stop-color="#f16e20"/><stop offset="0.457" stop-color="#ea3e23"/><stop offset="0.5191" stop-color="#e72924"/><stop offset="0.5603" stop-color="#e62025"/><stop offset="0.5803" stop-color="#e32025"/><stop offset="0.609" stop-color="#e01f25"/><stop offset="0.659" stop-color="#e01f25"/></linearGradient>
<linearGradient id="g82" href="#gb"><stop offset="0.114" stop-color="#fcea21"/><stop offset="0.164" stop-color="#fcea21"/><stop offset="0.1868" stop-color="#fce721"/><stop offset="0.2354" stop-color="#fbdd20"/><stop offset="0.2872" stop-color="#f9b61f"/><stop offset="0.3352" stop-color="#f7931e"/><stop offset="0.3383" stop-color="#f7901e"/><stop offset="0.3936" stop-color="#f16a20"/><stop offset="0.4528" stop-color="#ea3c23"/><stop offset="0.514" stop-color="#e72725"/><stop offset="0.5436" stop-color="#e62025"/><stop offset="0.5745" stop-color="#e11f25"/><stop offset="0.6029" stop-color="#de1f24"/><stop offset="0.6529" stop-color="#de1f24"/></linearGradient>
<linearGradient id="g83" href="#gb"><stop offset="0.1143" stop-color="#fce921"/><stop offset="0.1643" stop-color="#fce921"/><stop offset="0.187" stop-color="#fce621"/><stop offset="0.2351" stop-color="#fbdb20"/><stop offset="0.2858" stop-color="#f9b31f"/><stop offset="0.3303" stop-color="#f7931e"/><stop offset="0.3361" stop-color="#f68e1e"/><stop offset="0.3904" stop-color="#f06721"/><stop offset="0.4485" stop-color="#ea3a23"/><stop offset="0.5089" stop-color="#e72525"/><stop offset="0.5284" stop-color="#e62025"/><stop offset="0.5687" stop-color="#df1f25"/><stop offset="0.5967" stop-color="#dc1e24"/><stop offset="0.6467" stop-color="#dc1e24"/></linearGradient>
<linearGradient id="g84" href="#gb"><stop offset="0.1145" stop-color="#fce821"/><stop offset="0.1645" stop-color="#fce821"/><stop offset="0.1872" stop-color="#fbe521"/><stop offset="0.2348" stop-color="#fbda20"/><stop offset="0.2844" stop-color="#f9b01f"/><stop offset="0.3255" stop-color="#f7931e"/><stop offset="0.3338" stop-color="#f68c1e"/><stop offset="0.3872" stop-color="#f06321"/><stop offset="0.4442" stop-color="#ea3924"/><stop offset="0.5038" stop-color="#e62325"/><stop offset="0.5144" stop-color="#e62025"/><stop offset="0.5629" stop-color="#dd1f24"/><stop offset="0.5905" stop-color="#d91e24"/><stop offset="0.6405" stop-color="#d91e24"/></linearGradient>
<linearGradient id="g85" href="#gb"><stop offset="0.1147" stop-color="#fce821"/><stop offset="0.1647" stop-color="#fce821"/><stop offset="0.1874" stop-color="#fbe421"/><stop offset="0.2344" stop-color="#fbd820"/><stop offset="0.283" stop-color="#f8ae1f"/><stop offset="0.3206" stop-color="#f7931e"/><stop offset="0.3315" stop-color="#f6891f"/><stop offset="0.3839" stop-color="#ef5f21"/><stop offset="0.4397" stop-color="#e93724"/><stop offset="0.4986" stop-color="#e62125"/><stop offset="0.5015" stop-color="#e62025"/><stop offset="0.5571" stop-color="#db1e24"/><stop offset="0.5844" stop-color="#d71e24"/><stop offset="0.6344" stop-color="#d71e24"/></linearGradient>
<linearGradient id="g86" href="#gb"><stop offset="0.1149" stop-color="#fce721"/><stop offset="0.1649" stop-color="#fce721"/><stop offset="0.1875" stop-color="#fbe321"/><stop offset="0.234" stop-color="#fbd620"/><stop offset="0.2817" stop-color="#f8ab1f"/><stop offset="0.3158" stop-color="#f7931e"/><stop offset="0.3293" stop-color="#f5871f"/><stop offset="0.3807" stop-color="#ef5c21"/><stop offset="0.4352" stop-color="#e93524"/><stop offset="0.4901" stop-color="#e62025"/><stop offset="0.4934" stop-color="#e52025"/><stop offset="0.5513" stop-color="#d91e24"/><stop offset="0.5782" stop-color="#d51d24"/><stop offset="0.6282" stop-color="#d51d24"/></linearGradient>
<linearGradient id="g87" href="#gb"><stop offset="0.115" stop-color="#fce621"/><stop offset="0.165" stop-color="#fce621"/><stop offset="0.1876" stop-color="#fbe221"/><stop offset="0.2336" stop-color="#fbd520"/><stop offset="0.2803" stop-color="#f8a81f"/><stop offset="0.3108" stop-color="#f7931e"/><stop offset="0.327" stop-color="#f5851f"/><stop offset="0.3774" stop-color="#ee5822"/><stop offset="0.4307" stop-color="#e93324"/><stop offset="0.4796" stop-color="#e62025"/><stop offset="0.4882" stop-color="#e42025"/><stop offset="0.5456" stop-color="#d71e24"/><stop offset="0.5721" stop-color="#d31d24"/><stop offset="0.6221" stop-color="#d31d24"/></linearGradient>
<linearGradient id="g88" href="#gb"><stop offset="0.1151" stop-color="#fce521"/><stop offset="0.1651" stop-color="#fce521"/><stop offset="0.1877" stop-color="#fbe121"/><stop offset="0.2332" stop-color="#fbd320"/><stop offset="0.2789" stop-color="#f8a61f"/><stop offset="0.3059" stop-color="#f7931e"/><stop offset="0.3248" stop-color="#f5821f"/><stop offset="0.3742" stop-color="#e52"/><stop offset="0.4262" stop-color="#e93224"/><stop offset="0.4694" stop-color="#e62025"/><stop offset="0.483" stop-color="#e21f25"/><stop offset="0.5399" stop-color="#d51d24"/><stop offset="0.566" stop-color="#d11d24"/><stop offset="0.616" stop-color="#d11d24"/></linearGradient>
<linearGradient id="g89" href="#gb"><stop offset="0.1152" stop-color="#fbe421"/><stop offset="0.1652" stop-color="#fbe421"/><stop offset="0.1877" stop-color="#fbdf21"/><stop offset="0.2327" stop-color="#fad020"/><stop offset="0.2775" stop-color="#f8a31f"/><stop offset="0.3005" stop-color="#f7931e"/><stop offset="0.3226" stop-color="#f47f1f"/><stop offset="0.3709" stop-color="#ed5122"/><stop offset="0.4217" stop-color="#e83024"/><stop offset="0.4594" stop-color="#e62025"/><stop offset="0.4778" stop-color="#e11f25"/><stop offset="0.5343" stop-color="#d31d24"/><stop offset="0.56" stop-color="#ce1c23"/><stop offset="0.61" stop-color="#ce1c23"/></linearGradient>
<linearGradient id="g90" href="#gb"><stop offset="0.1153" stop-color="#fbe321"/><stop offset="0.1653" stop-color="#fbe321"/><stop offset="0.1877" stop-color="#fbdd20"/><stop offset="0.2322" stop-color="#facc20"/><stop offset="0.2761" stop-color="#f8a11e"/><stop offset="0.2952" stop-color="#f7931e"/><stop offset="0.3204" stop-color="#f47c1f"/><stop offset="0.3677" stop-color="#ed4e22"/><stop offset="0.4172" stop-color="#e82e24"/><stop offset="0.4497" stop-color="#e62025"/><stop offset="0.4727" stop-color="#e01f25"/><stop offset="0.5287" stop-color="#d11d24"/><stop offset="0.554" stop-color="#cc1c23"/><stop offset="0.604" stop-color="#cc1c23"/></linearGradient>
<linearGradient id="g91" href="#gb"><stop offset="0.1153" stop-color="#fbe221"/><stop offset="0.1653" stop-color="#fbe221"/><stop offset="0.1876" stop-color="#fbdb20"/><stop offset="0.2317" stop-color="#fac820"/><stop offset="0.2747" stop-color="#f89f1e"/><stop offset="0.2901" stop-color="#f7931e"/><stop offset="0.3182" stop-color="#f37820"/><stop offset="0.3645" stop-color="#ec4b22"/><stop offset="0.4129" stop-color="#e82c24"/><stop offset="0.44" stop-color="#e62025"/><stop offset="0.4677" stop-color="#de1f24"/><stop offset="0.5231" stop-color="#cf1c23"/><stop offset="0.5481" stop-color="#ca1b23"/><stop offset="0.5981" stop-color="#ca1b23"/></linearGradient>
<linearGradient id="g92" href="#gb"><stop offset="0.1153" stop-color="#fbe021"/><stop offset="0.1653" stop-color="#fbe021"/><stop offset="0.1875" stop-color="#fbd920"/><stop offset="0.2311" stop-color="#fac420"/><stop offset="0.2733" stop-color="#f89c1e"/><stop offset="0.2851" stop-color="#f7931e"/><stop offset="0.3161" stop-color="#f37520"/><stop offset="0.3613" stop-color="#ec4823"/><stop offset="0.4086" stop-color="#e72a24"/><stop offset="0.4304" stop-color="#e62025"/><stop offset="0.4628" stop-color="#dc1e24"/><stop offset="0.5177" stop-color="#cc1c23"/><stop offset="0.5423" stop-color="#c71b23"/><stop offset="0.5923" stop-color="#c71b23"/></linearGradient>
<linearGradient id="g93" href="#gb"><stop offset="0.1152" stop-color="#fbdf21"/><stop offset="0.1652" stop-color="#fbdf21"/><stop offset="0.1874" stop-color="#fbd720"/><stop offset="0.2306" stop-color="#fac020"/><stop offset="0.272" stop-color="#f79a1e"/><stop offset="0.2804" stop-color="#f7931e"/><stop offset="0.314" stop-color="#f27120"/><stop offset="0.3582" stop-color="#eb4423"/><stop offset="0.4044" stop-color="#e72825"/><stop offset="0.4213" stop-color="#e62025"/><stop offset="0.4579" stop-color="#db1e24"/><stop offset="0.5122" stop-color="#ca1b23"/><stop offset="0.5366" stop-color="#c41a23"/><stop offset="0.5866" stop-color="#c41a23"/></linearGradient>
<linearGradient id="g94" href="#gb"><stop offset="0.1152" stop-color="#fbde20"/><stop offset="0.1652" stop-color="#fbde20"/><stop offset="0.1873" stop-color="#fbd520"/><stop offset="0.23" stop-color="#f9bd1f"/><stop offset="0.2706" stop-color="#f7971e"/><stop offset="0.2758" stop-color="#f7931e"/><stop offset="0.3119" stop-color="#f26e20"/><stop offset="0.3551" stop-color="#eb4123"/><stop offset="0.4003" stop-color="#e72625"/><stop offset="0.4127" stop-color="#e62025"/><stop offset="0.4532" stop-color="#d91e24"/><stop offset="0.5069" stop-color="#c71b23"/><stop offset="0.531" stop-color="#c11a22"/><stop offset="0.581" stop-color="#c11a22"/></linearGradient>
<linearGradient id="g95" href="#gb"><stop offset="0.1151" stop-color="#fbdd20"/><stop offset="0.1651" stop-color="#fbdd20"/><stop offset="0.1871" stop-color="#fbd320"/><stop offset="0.2294" stop-color="#f9b91f"/><stop offset="0.2693" stop-color="#f7951e"/><stop offset="0.2715" stop-color="#f7931e"/><stop offset="0.3098" stop-color="#f16a20"/><stop offset="0.352" stop-color="#ea3e23"/><stop offset="0.3964" stop-color="#e72425"/><stop offset="0.4046" stop-color="#e62025"/><stop offset="0.4486" stop-color="#d71e24"/><stop offset="0.5016" stop-color="#c41b23"/><stop offset="0.5255" stop-color="#be1a22"/><stop offset="0.5755" stop-color="#be1a22"/></linearGradient>
<linearGradient id="g96" href="#gb"><stop offset="0.115" stop-color="#fbdb20"/><stop offset="0.165" stop-color="#fbdb20"/><stop offset="0.1869" stop-color="#fad220"/><stop offset="0.2288" stop-color="#f9b51f"/><stop offset="0.2673" stop-color="#f7931e"/><stop offset="0.268" stop-color="#f7921e"/><stop offset="0.3078" stop-color="#f06721"/><stop offset="0.3491" stop-color="#ea3b23"/><stop offset="0.3925" stop-color="#e62225"/><stop offset="0.3969" stop-color="#e62025"/><stop offset="0.444" stop-color="#d51d24"/><stop offset="0.4965" stop-color="#c21a23"/><stop offset="0.5202" stop-color="#bb1922"/><stop offset="0.5702" stop-color="#bb1922"/></linearGradient>
<linearGradient id="g97" href="#gb"><stop offset="0.1149" stop-color="#fbda20"/><stop offset="0.1649" stop-color="#fbda20"/><stop offset="0.1867" stop-color="#fad020"/><stop offset="0.2282" stop-color="#f9b11f"/><stop offset="0.2631" stop-color="#f7931e"/><stop offset="0.2667" stop-color="#f68f1e"/><stop offset="0.3058" stop-color="#f06421"/><stop offset="0.3462" stop-color="#e93824"/><stop offset="0.3888" stop-color="#e62025"/><stop offset="0.3897" stop-color="#e62025"/><stop offset="0.4396" stop-color="#d41d24"/><stop offset="0.4914" stop-color="#bf1a22"/><stop offset="0.515" stop-color="#b81922"/><stop offset="0.565" stop-color="#b81922"/></linearGradient>
<linearGradient id="g98" href="#gb"><stop offset="0.1147" stop-color="#fbd920"/><stop offset="0.1647" stop-color="#fbd920"/><stop offset="0.1865" stop-color="#face20"/><stop offset="0.2275" stop-color="#f8ad1f"/><stop offset="0.2589" stop-color="#f7931e"/><stop offset="0.2654" stop-color="#f68c1e"/><stop offset="0.3039" stop-color="#ef6021"/><stop offset="0.3434" stop-color="#e93424"/><stop offset="0.3825" stop-color="#e62025"/><stop offset="0.3852" stop-color="#e52025"/><stop offset="0.4353" stop-color="#d21d24"/><stop offset="0.4864" stop-color="#bc1922"/><stop offset="0.5099" stop-color="#b51822"/><stop offset="0.5599" stop-color="#b51822"/></linearGradient>
<linearGradient id="g99" href="#gb"><stop offset="0.1145" stop-color="#fbd820"/><stop offset="0.1645" stop-color="#fbd820"/><stop offset="0.1863" stop-color="#facc20"/><stop offset="0.2269" stop-color="#f8aa1f"/><stop offset="0.2544" stop-color="#f7931e"/><stop offset="0.2641" stop-color="#f6891f"/><stop offset="0.302" stop-color="#ef5d21"/><stop offset="0.3406" stop-color="#e93124"/><stop offset="0.375" stop-color="#e62025"/><stop offset="0.3818" stop-color="#e42025"/><stop offset="0.431" stop-color="#d01c24"/><stop offset="0.4816" stop-color="#ba1922"/><stop offset="0.505" stop-color="#b21821"/><stop offset="0.555" stop-color="#b21821"/></linearGradient>
<linearGradient id="g100" href="#gb"><stop offset="0.1144" stop-color="#fbd620"/><stop offset="0.1644" stop-color="#fbd620"/><stop offset="0.186" stop-color="#faca20"/><stop offset="0.2263" stop-color="#f8a61f"/><stop offset="0.2498" stop-color="#f7931e"/><stop offset="0.2628" stop-color="#f5861f"/><stop offset="0.3001" stop-color="#ee5922"/><stop offset="0.338" stop-color="#e82e24"/><stop offset="0.3673" stop-color="#e62025"/><stop offset="0.3784" stop-color="#e31f25"/><stop offset="0.4269" stop-color="#ce1c23"/><stop offset="0.4769" stop-color="#b71822"/><stop offset="0.5003" stop-color="#af1721"/><stop offset="0.5503" stop-color="#af1721"/></linearGradient>
<linearGradient id="g101" href="#gb"><stop offset="0.1142" stop-color="#fbd520"/><stop offset="0.1642" stop-color="#fbd520"/><stop offset="0.1857" stop-color="#fac820"/><stop offset="0.2256" stop-color="#f8a21e"/><stop offset="0.245" stop-color="#f7931e"/><stop offset="0.2616" stop-color="#f5831f"/><stop offset="0.2983" stop-color="#ee5622"/><stop offset="0.3354" stop-color="#e82b24"/><stop offset="0.3591" stop-color="#e62025"/><stop offset="0.3752" stop-color="#e11f25"/><stop offset="0.4228" stop-color="#cc1c23"/><stop offset="0.4723" stop-color="#b41822"/><stop offset="0.4957" stop-color="#ac1721"/><stop offset="0.5457" stop-color="#ac1721"/></linearGradient>
<linearGradient id="g102" href="#gb"><stop offset="0.1139" stop-color="#fbd420"/><stop offset="0.1639" stop-color="#fbd420"/><stop offset="0.1854" stop-color="#fac620"/><stop offset="0.225" stop-color="#f89e1e"/><stop offset="0.2399" stop-color="#f7931e"/><stop offset="0.2604" stop-color="#f4801f"/><stop offset="0.2965" stop-color="#ed5222"/><stop offset="0.333" stop-color="#e72725"/><stop offset="0.3505" stop-color="#e62025"/><stop offset="0.3721" stop-color="#e01f25"/><stop offset="0.4189" stop-color="#cb1c23"/><stop offset="0.4678" stop-color="#b21821"/><stop offset="0.4912" stop-color="#a91621"/><stop offset="0.5412" stop-color="#a91621"/></linearGradient>
<linearGradient id="g103" href="#gb"><stop offset="0.1137" stop-color="#fad320"/><stop offset="0.1637" stop-color="#fad320"/><stop offset="0.1851" stop-color="#fac420"/><stop offset="0.2243" stop-color="#f79b1e"/><stop offset="0.2354" stop-color="#f7931e"/><stop offset="0.2592" stop-color="#f47d1f"/><stop offset="0.2947" stop-color="#ed4f22"/><stop offset="0.3306" stop-color="#e62325"/><stop offset="0.3382" stop-color="#e62025"/><stop offset="0.3691" stop-color="#df1f25"/><stop offset="0.4151" stop-color="#c91b23"/><stop offset="0.4634" stop-color="#af1721"/><stop offset="0.4869" stop-color="#a61621"/><stop offset="0.5369" stop-color="#a61621"/></linearGradient>
<linearGradient id="g104" href="#gb"><stop offset="0.1135" stop-color="#fad120"/><stop offset="0.1635" stop-color="#fad120"/><stop offset="0.1848" stop-color="#fac220"/><stop offset="0.2237" stop-color="#f79a1e"/><stop offset="0.2318" stop-color="#f7931e"/><stop offset="0.258" stop-color="#f37920"/><stop offset="0.293" stop-color="#ec4a22"/><stop offset="0.3256" stop-color="#e62025"/><stop offset="0.3282" stop-color="#e42025"/><stop offset="0.3662" stop-color="#da1e24"/><stop offset="0.4114" stop-color="#c31a23"/><stop offset="0.4592" stop-color="#a91621"/><stop offset="0.4827" stop-color="#9f1520"/><stop offset="0.5327" stop-color="#9f1520"/></linearGradient>
<linearGradient id="g105" href="#gb"><stop offset="0.1132" stop-color="#facf20"/><stop offset="0.1632" stop-color="#facf20"/><stop offset="0.1845" stop-color="#fac120"/><stop offset="0.223" stop-color="#f7981e"/><stop offset="0.2285" stop-color="#f7931e"/><stop offset="0.2568" stop-color="#f27420"/><stop offset="0.2913" stop-color="#eb4523"/><stop offset="0.319" stop-color="#e62025"/><stop offset="0.326" stop-color="#e01f25"/><stop offset="0.3634" stop-color="#d41d24"/><stop offset="0.4077" stop-color="#bc1922"/><stop offset="0.455" stop-color="#a11520"/><stop offset="0.4662" stop-color="#9c1420"/><stop offset="0.4787" stop-color="#97141f"/><stop offset="0.5287" stop-color="#97141f"/></linearGradient>
<linearGradient id="g106" href="#gb"><stop offset="0.1129" stop-color="#facd20"/><stop offset="0.1629" stop-color="#facd20"/><stop offset="0.1841" stop-color="#f9bf1f"/><stop offset="0.2224" stop-color="#f7961e"/><stop offset="0.2256" stop-color="#f7931e"/><stop offset="0.2557" stop-color="#f26f20"/><stop offset="0.2897" stop-color="#eb4023"/><stop offset="0.3127" stop-color="#e62025"/><stop offset="0.3239" stop-color="#dc1e24"/><stop offset="0.3607" stop-color="#ce1c23"/><stop offset="0.4042" stop-color="#b51822"/><stop offset="0.4453" stop-color="#9c1420"/><stop offset="0.4511" stop-color="#991420"/><stop offset="0.4748" stop-color="#90131e"/><stop offset="0.5248" stop-color="#90131e"/></linearGradient>
<linearGradient id="g107" href="#gb"><stop offset="0.1126" stop-color="#facc20"/><stop offset="0.1626" stop-color="#facc20"/><stop offset="0.1838" stop-color="#f9bd1f"/><stop offset="0.2217" stop-color="#f7941e"/><stop offset="0.2231" stop-color="#f7931e"/><stop offset="0.2546" stop-color="#f16b20"/><stop offset="0.2882" stop-color="#ea3b23"/><stop offset="0.3069" stop-color="#e62025"/><stop offset="0.3218" stop-color="#d81e24"/><stop offset="0.3581" stop-color="#c81b23"/><stop offset="0.4008" stop-color="#ae1721"/><stop offset="0.429" stop-color="#9c1420"/><stop offset="0.4472" stop-color="#91131e"/><stop offset="0.4711" stop-color="#88121d"/><stop offset="0.5211" stop-color="#88121d"/></linearGradient>
<linearGradient id="g108" href="#gb"><stop offset="0.1123" stop-color="#faca20"/><stop offset="0.1623" stop-color="#faca20"/><stop offset="0.1834" stop-color="#f9bc1f"/><stop offset="0.2207" stop-color="#f7931e"/><stop offset="0.2211" stop-color="#f7931e"/><stop offset="0.2535" stop-color="#f06621"/><stop offset="0.2866" stop-color="#e93624"/><stop offset="0.3013" stop-color="#e62025"/><stop offset="0.3198" stop-color="#d41d24"/><stop offset="0.3556" stop-color="#c21a23"/><stop offset="0.3975" stop-color="#a71621"/><stop offset="0.4137" stop-color="#9c1420"/><stop offset="0.4434" stop-color="#8a121d"/><stop offset="0.4674" stop-color="#80121c"/><stop offset="0.5174" stop-color="#80121c"/></linearGradient>
<linearGradient id="g109" href="#gb"><stop offset="0.112" stop-color="#fac820"/><stop offset="0.162" stop-color="#fac820"/><stop offset="0.1831" stop-color="#f9ba1f"/><stop offset="0.2185" stop-color="#f7931e"/><stop offset="0.2204" stop-color="#f7901e"/><stop offset="0.2524" stop-color="#f06221"/><stop offset="0.2852" stop-color="#e83124"/><stop offset="0.2961" stop-color="#e62025"/><stop offset="0.3179" stop-color="#d01c24"/><stop offset="0.3532" stop-color="#bd1922"/><stop offset="0.3943" stop-color="#a01520"/><stop offset="0.3995" stop-color="#9c1420"/><stop offset="0.4398" stop-color="#83121c"/><stop offset="0.4639" stop-color="#79111b"/><stop offset="0.5139" stop-color="#79111b"/></linearGradient>
<linearGradient id="g110" href="#gb"><stop offset="0.1117" stop-color="#fac720"/><stop offset="0.1617" stop-color="#fac720"/><stop offset="0.1827" stop-color="#f9b81f"/><stop offset="0.2164" stop-color="#f7931e"/><stop offset="0.2198" stop-color="#f68e1e"/><stop offset="0.2514" stop-color="#ef5d21"/><stop offset="0.2837" stop-color="#e82c24"/><stop offset="0.2911" stop-color="#e62025"/><stop offset="0.316" stop-color="#cc1c23"/><stop offset="0.3509" stop-color="#b71822"/><stop offset="0.3864" stop-color="#9c1420"/><stop offset="0.3912" stop-color="#991420"/><stop offset="0.4363" stop-color="#7b111b"/><stop offset="0.4606" stop-color="#71101a"/><stop offset="0.5106" stop-color="#71101a"/></linearGradient>
<linearGradient id="g111" href="#gb"><stop offset="0.1114" stop-color="#fac520"/><stop offset="0.1614" stop-color="#fac520"/><stop offset="0.1823" stop-color="#f9b61f"/><stop offset="0.2142" stop-color="#f7931e"/><stop offset="0.2192" stop-color="#f68c1e"/><stop offset="0.2504" stop-color="#ee5822"/><stop offset="0.2823" stop-color="#e72725"/><stop offset="0.2864" stop-color="#e62025"/><stop offset="0.3143" stop-color="#c81b23"/><stop offset="0.3487" stop-color="#b11721"/><stop offset="0.3748" stop-color="#9c1420"/><stop offset="0.3882" stop-color="#92131f"/><stop offset="0.4329" stop-color="#74101a"/><stop offset="0.4573" stop-color="#6a1019"/><stop offset="0.5073" stop-color="#6a1019"/></linearGradient>
<linearGradient id="g112" href="#gb"><stop offset="0.1111" stop-color="#fac320"/><stop offset="0.1611" stop-color="#fac320"/><stop offset="0.182" stop-color="#f9b51f"/><stop offset="0.2121" stop-color="#f7931e"/><stop offset="0.2186" stop-color="#f68a1f"/><stop offset="0.2494" stop-color="#ee5422"/><stop offset="0.281" stop-color="#e62225"/><stop offset="0.282" stop-color="#e62025"/><stop offset="0.3126" stop-color="#c51b23"/><stop offset="0.3466" stop-color="#ab1621"/><stop offset="0.3642" stop-color="#9c1420"/><stop offset="0.3853" stop-color="#8c131e"/><stop offset="0.4296" stop-color="#6d1019"/><stop offset="0.4542" stop-color="#620f17"/><stop offset="0.5042" stop-color="#620f17"/></linearGradient>
<linearGradient id="g113" href="#gb"><stop offset="0.1108" stop-color="#fac120"/><stop offset="0.1608" stop-color="#fac120"/><stop offset="0.1816" stop-color="#f9b31f"/><stop offset="0.21" stop-color="#f7931e"/><stop offset="0.2179" stop-color="#f5881f"/><stop offset="0.2484" stop-color="#ed4f22"/><stop offset="0.2776" stop-color="#e62025"/><stop offset="0.2797" stop-color="#e42025"/><stop offset="0.311" stop-color="#c11a22"/><stop offset="0.3445" stop-color="#a51521"/><stop offset="0.3545" stop-color="#9c1420"/><stop offset="0.3825" stop-color="#85121d"/><stop offset="0.4265" stop-color="#650f18"/><stop offset="0.4511" stop-color="#5a0e16"/><stop offset="0.5011" stop-color="#5a0e16"/></linearGradient>
<linearGradient id="g114" href="#gb"><stop offset="0.1104" stop-color="#f9c01f"/><stop offset="0.1604" stop-color="#f9c01f"/><stop offset="0.1812" stop-color="#f9b11f"/><stop offset="0.208" stop-color="#f7931e"/><stop offset="0.2173" stop-color="#f5861f"/><stop offset="0.2475" stop-color="#ec4b22"/><stop offset="0.2733" stop-color="#e62025"/><stop offset="0.2784" stop-color="#e11f25"/><stop offset="0.3094" stop-color="#bd1922"/><stop offset="0.3426" stop-color="#9f1420"/><stop offset="0.3457" stop-color="#9c1420"/><stop offset="0.3798" stop-color="#7f111c"/><stop offset="0.4234" stop-color="#5e0f17"/><stop offset="0.4366" stop-color="#580e16"/><stop offset="0.4482" stop-color="#550e16"/><stop offset="0.4982" stop-color="#550e16"/></linearGradient>
<linearGradient id="g115" href="#gb"><stop offset="0.1101" stop-color="#f9be1f"/><stop offset="0.1601" stop-color="#f9be1f"/><stop offset="0.1808" stop-color="#f9b01f"/><stop offset="0.2059" stop-color="#f7931e"/><stop offset="0.2168" stop-color="#f5831f"/><stop offset="0.2466" stop-color="#ec4623"/><stop offset="0.2692" stop-color="#e62025"/><stop offset="0.2772" stop-color="#dd1f24"/><stop offset="0.3079" stop-color="#b91922"/><stop offset="0.3376" stop-color="#9c1420"/><stop offset="0.3407" stop-color="#991420"/><stop offset="0.3772" stop-color="#78111b"/><stop offset="0.4188" stop-color="#580e16"/><stop offset="0.4205" stop-color="#570e16"/><stop offset="0.4454" stop-color="#500e15"/><stop offset="0.4954" stop-color="#500e15"/></linearGradient>
<linearGradient id="g116" href="#gb"><stop offset="0.1098" stop-color="#f9bc1f"/><stop offset="0.1598" stop-color="#f9bc1f"/><stop offset="0.1805" stop-color="#f8ae1f"/><stop offset="0.2039" stop-color="#f7931e"/><stop offset="0.2162" stop-color="#f4811f"/><stop offset="0.2457" stop-color="#eb4123"/><stop offset="0.265" stop-color="#e62025"/><stop offset="0.276" stop-color="#da1e24"/><stop offset="0.3065" stop-color="#b51822"/><stop offset="0.3305" stop-color="#9c1420"/><stop offset="0.3389" stop-color="#94131f"/><stop offset="0.3747" stop-color="#72101a"/><stop offset="0.4079" stop-color="#580e16"/><stop offset="0.4177" stop-color="#530e15"/><stop offset="0.4427" stop-color="#4b0d14"/><stop offset="0.4927" stop-color="#4b0d14"/></linearGradient>
<linearGradient id="g117" href="#gb"><stop offset="0.1094" stop-color="#f9bc1f"/><stop offset="0.1594" stop-color="#f9bc1f"/><stop offset="0.1801" stop-color="#f8ad1f"/><stop offset="0.202" stop-color="#f7931e"/><stop offset="0.2156" stop-color="#f47f1f"/><stop offset="0.2449" stop-color="#ea3b23"/><stop offset="0.2603" stop-color="#e62025"/><stop offset="0.2749" stop-color="#d61d24"/><stop offset="0.3051" stop-color="#b01721"/><stop offset="0.324" stop-color="#9c1420"/><stop offset="0.3372" stop-color="#8f131e"/><stop offset="0.3723" stop-color="#6e1019"/><stop offset="0.4006" stop-color="#580e16"/><stop offset="0.415" stop-color="#510e15"/><stop offset="0.4401" stop-color="#490d14"/><stop offset="0.4901" stop-color="#490d14"/></linearGradient>
<linearGradient id="g118" href="#gb"><stop offset="0.1091" stop-color="#f9bb1f"/><stop offset="0.1591" stop-color="#f9bb1f"/><stop offset="0.1797" stop-color="#f8ac1f"/><stop offset="0.2002" stop-color="#f7931e"/><stop offset="0.2151" stop-color="#f47c1f"/><stop offset="0.244" stop-color="#e93524"/><stop offset="0.2559" stop-color="#e62025"/><stop offset="0.2738" stop-color="#d11d24"/><stop offset="0.3038" stop-color="#ab1621"/><stop offset="0.3179" stop-color="#9c1420"/><stop offset="0.3355" stop-color="#8b121d"/><stop offset="0.37" stop-color="#6a1019"/><stop offset="0.3933" stop-color="#580e16"/><stop offset="0.4124" stop-color="#4f0e15"/><stop offset="0.4376" stop-color="#470d14"/><stop offset="0.4876" stop-color="#470d14"/></linearGradient>
<linearGradient id="g119" href="#gb"><stop offset="0.1087" stop-color="#f9bb1f"/><stop offset="0.1587" stop-color="#f9bb1f"/><stop offset="0.1793" stop-color="#f8ab1f"/><stop offset="0.1985" stop-color="#f7931e"/><stop offset="0.2145" stop-color="#f37a20"/><stop offset="0.2433" stop-color="#e82f24"/><stop offset="0.2516" stop-color="#e62025"/><stop offset="0.2728" stop-color="#cd1c23"/><stop offset="0.3026" stop-color="#a61621"/><stop offset="0.3119" stop-color="#9c1420"/><stop offset="0.334" stop-color="#86121d"/><stop offset="0.3678" stop-color="#660f18"/><stop offset="0.3859" stop-color="#580e16"/><stop offset="0.4099" stop-color="#4c0d14"/><stop offset="0.4352" stop-color="#450d13"/><stop offset="0.4852" stop-color="#450d13"/></linearGradient>
<linearGradient id="g120" href="#gb"><stop offset="0.1084" stop-color="#f9ba1f"/><stop offset="0.1584" stop-color="#f9ba1f"/><stop offset="0.179" stop-color="#f8aa1f"/><stop offset="0.1969" stop-color="#f7931e"/><stop offset="0.214" stop-color="#f37720"/><stop offset="0.2425" stop-color="#e72a24"/><stop offset="0.2476" stop-color="#e62025"/><stop offset="0.2718" stop-color="#c91b23"/><stop offset="0.3014" stop-color="#a11520"/><stop offset="0.3062" stop-color="#9c1420"/><stop offset="0.3325" stop-color="#81121c"/><stop offset="0.3657" stop-color="#610f17"/><stop offset="0.3784" stop-color="#580e16"/><stop offset="0.4075" stop-color="#4a0d14"/><stop offset="0.4329" stop-color="#430d13"/><stop offset="0.4829" stop-color="#430d13"/></linearGradient>
<linearGradient id="g121" href="#gb"><stop offset="0.1081" stop-color="#f9b91f"/><stop offset="0.1581" stop-color="#f9b91f"/><stop offset="0.1786" stop-color="#f8a91f"/><stop offset="0.1953" stop-color="#f7931e"/><stop offset="0.2135" stop-color="#f37520"/><stop offset="0.2418" stop-color="#e72425"/><stop offset="0.2437" stop-color="#e62025"/><stop offset="0.2708" stop-color="#c41b23"/><stop offset="0.3003" stop-color="#9c1420"/><stop offset="0.3007" stop-color="#9c1420"/><stop offset="0.3311" stop-color="#7d111b"/><stop offset="0.3637" stop-color="#5d0e17"/><stop offset="0.3708" stop-color="#580e16"/><stop offset="0.4053" stop-color="#480d14"/><stop offset="0.4307" stop-color="#410d13"/><stop offset="0.4807" stop-color="#410d13"/></linearGradient>
<linearGradient id="g122" href="#gb"><stop offset="0.1078" stop-color="#f9b91f"/><stop offset="0.1578" stop-color="#f9b91f"/><stop offset="0.1783" stop-color="#f8a81f"/><stop offset="0.1938" stop-color="#f7931e"/><stop offset="0.213" stop-color="#f27220"/><stop offset="0.2404" stop-color="#e62025"/><stop offset="0.2411" stop-color="#e52025"/><stop offset="0.2699" stop-color="#c01a22"/><stop offset="0.296" stop-color="#9c1420"/><stop offset="0.2992" stop-color="#98141f"/><stop offset="0.3297" stop-color="#78111b"/><stop offset="0.3618" stop-color="#590e16"/><stop offset="0.3631" stop-color="#580e16"/><stop offset="0.4031" stop-color="#460d13"/><stop offset="0.4286" stop-color="#3f0d13"/><stop offset="0.4786" stop-color="#3f0d13"/></linearGradient>
<linearGradient id="g123" href="#gb"><stop offset="0.1074" stop-color="#f9b81f"/><stop offset="0.1574" stop-color="#f9b81f"/><stop offset="0.1779" stop-color="#f8a71f"/><stop offset="0.1924" stop-color="#f7931e"/><stop offset="0.2126" stop-color="#f27020"/><stop offset="0.2379" stop-color="#e62025"/><stop offset="0.2404" stop-color="#e11f25"/><stop offset="0.269" stop-color="#bc1922"/><stop offset="0.2916" stop-color="#9c1420"/><stop offset="0.2982" stop-color="#94131f"/><stop offset="0.3284" stop-color="#73101a"/><stop offset="0.3566" stop-color="#580e16"/><stop offset="0.36" stop-color="#560e16"/><stop offset="0.4011" stop-color="#430d13"/><stop offset="0.4265" stop-color="#3d0d12"/><stop offset="0.4765" stop-color="#3d0d12"/></linearGradient>
<linearGradient id="g124" href="#gb"><stop offset="0.1071" stop-color="#f9b71f"/><stop offset="0.1571" stop-color="#f9b71f"/><stop offset="0.1776" stop-color="#f8a61f"/><stop offset="0.191" stop-color="#f7931e"/><stop offset="0.2121" stop-color="#f16d20"/><stop offset="0.2355" stop-color="#e62025"/><stop offset="0.2398" stop-color="#dd1f24"/><stop offset="0.2682" stop-color="#b71822"/><stop offset="0.2874" stop-color="#9c1420"/><stop offset="0.2972" stop-color="#8f131e"/><stop offset="0.3272" stop-color="#6e1019"/><stop offset="0.3505" stop-color="#580e16"/><stop offset="0.3583" stop-color="#530e15"/><stop offset="0.3991" stop-color="#410d13"/><stop offset="0.4246" stop-color="#3b0d12"/><stop offset="0.4746" stop-color="#3b0d12"/></linearGradient>
<linearGradient id="g125" href="#gb"><stop offset="0.1068" stop-color="#f9b71f"/><stop offset="0.1568" stop-color="#f9b71f"/><stop offset="0.1772" stop-color="#f8a51f"/><stop offset="0.1897" stop-color="#f7931e"/><stop offset="0.2116" stop-color="#f16b20"/><stop offset="0.2334" stop-color="#e62025"/><stop offset="0.2391" stop-color="#d91e24"/><stop offset="0.2674" stop-color="#b31822"/><stop offset="0.2833" stop-color="#9c1420"/><stop offset="0.2963" stop-color="#8b121d"/><stop offset="0.326" stop-color="#6a1019"/><stop offset="0.3445" stop-color="#580e16"/><stop offset="0.3567" stop-color="#500e15"/><stop offset="0.3973" stop-color="#3f0d13"/><stop offset="0.4227" stop-color="#390d12"/><stop offset="0.4727" stop-color="#390d12"/></linearGradient>
<linearGradient id="g126" href="#gb"><stop offset="0.1065" stop-color="#f9b61f"/><stop offset="0.1565" stop-color="#f9b61f"/><stop offset="0.1769" stop-color="#f8a41f"/><stop offset="0.1884" stop-color="#f7931e"/><stop offset="0.2112" stop-color="#f16821"/><stop offset="0.2314" stop-color="#e62025"/><stop offset="0.2385" stop-color="#d61d24"/><stop offset="0.2666" stop-color="#af1721"/><stop offset="0.2793" stop-color="#9c1420"/><stop offset="0.2955" stop-color="#86121d"/><stop offset="0.325" stop-color="#650f18"/><stop offset="0.3386" stop-color="#580e16"/><stop offset="0.3552" stop-color="#4e0e15"/><stop offset="0.3956" stop-color="#3d0d12"/><stop offset="0.421" stop-color="#370c11"/><stop offset="0.471" stop-color="#370c11"/></linearGradient>
<linearGradient id="g127" href="#gb"><stop offset="0.1062" stop-color="#f9b51f"/><stop offset="0.1562" stop-color="#f9b51f"/><stop offset="0.1766" stop-color="#f8a31f"/><stop offset="0.1872" stop-color="#f7931e"/><stop offset="0.2108" stop-color="#f06621"/><stop offset="0.2295" stop-color="#e62025"/><stop offset="0.238" stop-color="#d21d24"/><stop offset="0.2658" stop-color="#aa1621"/><stop offset="0.2755" stop-color="#9c1420"/><stop offset="0.2947" stop-color="#82121c"/><stop offset="0.3239" stop-color="#600f17"/><stop offset="0.3327" stop-color="#580e16"/><stop offset="0.3538" stop-color="#4b0d14"/><stop offset="0.3939" stop-color="#3a0d12"/><stop offset="0.4193" stop-color="#350c11"/><stop offset="0.4693" stop-color="#350c11"/></linearGradient>
<linearGradient id="g128" href="#gb"><stop offset="0.1059" stop-color="#f9b51f"/><stop offset="0.1559" stop-color="#f9b51f"/><stop offset="0.1763" stop-color="#f8a21e"/><stop offset="0.186" stop-color="#f7931e"/><stop offset="0.2104" stop-color="#f06321"/><stop offset="0.2278" stop-color="#e62025"/><stop offset="0.2374" stop-color="#ce1c23"/><stop offset="0.2651" stop-color="#a61621"/><stop offset="0.2718" stop-color="#9c1420"/><stop offset="0.2939" stop-color="#7d111b"/><stop offset="0.323" stop-color="#5c0e17"/><stop offset="0.3268" stop-color="#580e16"/><stop offset="0.3525" stop-color="#480d14"/><stop offset="0.3924" stop-color="#380d12"/><stop offset="0.4176" stop-color="#330c11"/><stop offset="0.4676" stop-color="#330c11"/></linearGradient>
<linearGradient id="g129" href="#gb"><stop offset="0.1057" stop-color="#f9b41f"/><stop offset="0.1557" stop-color="#f9b41f"/><stop offset="0.176" stop-color="#f8a11e"/><stop offset="0.1849" stop-color="#f7931e"/><stop offset="0.21" stop-color="#f06121"/><stop offset="0.2261" stop-color="#e62025"/><stop offset="0.2369" stop-color="#ca1c23"/><stop offset="0.2645" stop-color="#a21520"/><stop offset="0.2683" stop-color="#9c1420"/><stop offset="0.2932" stop-color="#79111b"/><stop offset="0.3211" stop-color="#580e16"/><stop offset="0.322" stop-color="#570e16"/><stop offset="0.3513" stop-color="#460d13"/><stop offset="0.391" stop-color="#360c11"/><stop offset="0.4161" stop-color="#300c11"/><stop offset="0.4661" stop-color="#300c11"/></linearGradient>
<linearGradient id="g130" href="#gb"><stop offset="0.1054" stop-color="#f9b31f"/><stop offset="0.1554" stop-color="#f9b31f"/><stop offset="0.1757" stop-color="#f89f1e"/><stop offset="0.1833" stop-color="#f7931e"/><stop offset="0.2096" stop-color="#ef5c21"/><stop offset="0.2245" stop-color="#e62025"/><stop offset="0.2364" stop-color="#c71b23"/><stop offset="0.2638" stop-color="#9e1420"/><stop offset="0.2654" stop-color="#9c1420"/><stop offset="0.2925" stop-color="#76111a"/><stop offset="0.3178" stop-color="#580e16"/><stop offset="0.3212" stop-color="#550e16"/><stop offset="0.3501" stop-color="#440d13"/><stop offset="0.3897" stop-color="#340c11"/><stop offset="0.4146" stop-color="#2f0c10"/><stop offset="0.4646" stop-color="#2f0c10"/></linearGradient>
<linearGradient id="g131" href="#gb"><stop offset="0.1052" stop-color="#f9b21f"/><stop offset="0.1552" stop-color="#f9b21f"/><stop offset="0.1754" stop-color="#f89d1e"/><stop offset="0.1813" stop-color="#f7931e"/><stop offset="0.2093" stop-color="#ee5622"/><stop offset="0.2227" stop-color="#e62025"/><stop offset="0.2359" stop-color="#c41a23"/><stop offset="0.263" stop-color="#9c1420"/><stop offset="0.2632" stop-color="#9c1420"/><stop offset="0.2918" stop-color="#74111a"/><stop offset="0.3159" stop-color="#580e16"/><stop offset="0.3204" stop-color="#550e16"/><stop offset="0.3491" stop-color="#430d13"/><stop offset="0.3884" stop-color="#330c11"/><stop offset="0.4132" stop-color="#2e0c10"/><stop offset="0.4632" stop-color="#2e0c10"/></linearGradient>
<linearGradient id="g132" href="#gb"><stop offset="0.105" stop-color="#f9b01f"/><stop offset="0.155" stop-color="#f9b01f"/><stop offset="0.1752" stop-color="#f79b1e"/><stop offset="0.1795" stop-color="#f7931e"/><stop offset="0.2089" stop-color="#ed5022"/><stop offset="0.221" stop-color="#e62025"/><stop offset="0.2355" stop-color="#c11a22"/><stop offset="0.2606" stop-color="#9c1420"/><stop offset="0.2627" stop-color="#991420"/><stop offset="0.2912" stop-color="#73101a"/><stop offset="0.3141" stop-color="#580e16"/><stop offset="0.3196" stop-color="#540e15"/><stop offset="0.3482" stop-color="#410d13"/><stop offset="0.3873" stop-color="#320c11"/><stop offset="0.4119" stop-color="#2d0c10"/><stop offset="0.4619" stop-color="#2d0c10"/></linearGradient>
<linearGradient id="g133" href="#gb"><stop offset="0.1047" stop-color="#f9af1f"/><stop offset="0.1547" stop-color="#f9af1f"/><stop offset="0.1749" stop-color="#f7991e"/><stop offset="0.1779" stop-color="#f7931e"/><stop offset="0.2086" stop-color="#ec4922"/><stop offset="0.2192" stop-color="#e62025"/><stop offset="0.2351" stop-color="#be1a22"/><stop offset="0.2582" stop-color="#9c1420"/><stop offset="0.2621" stop-color="#97141f"/><stop offset="0.2907" stop-color="#71101a"/><stop offset="0.3123" stop-color="#580e16"/><stop offset="0.3189" stop-color="#530e15"/><stop offset="0.3473" stop-color="#400d13"/><stop offset="0.3863" stop-color="#310c11"/><stop offset="0.4107" stop-color="#2c0c10"/><stop offset="0.4607" stop-color="#2c0c10"/></linearGradient>
<linearGradient id="g134" href="#gb"><stop offset="0.1045" stop-color="#f8ae1f"/><stop offset="0.1545" stop-color="#f8ae1f"/><stop offset="0.1747" stop-color="#f7961e"/><stop offset="0.1763" stop-color="#f7931e"/><stop offset="0.2083" stop-color="#eb4323"/><stop offset="0.2174" stop-color="#e62025"/><stop offset="0.2346" stop-color="#bb1922"/><stop offset="0.2559" stop-color="#9c1420"/><stop offset="0.2616" stop-color="#94131f"/><stop offset="0.2901" stop-color="#70101a"/><stop offset="0.3106" stop-color="#580e16"/><stop offset="0.3182" stop-color="#520e15"/><stop offset="0.3465" stop-color="#3f0d13"/><stop offset="0.3853" stop-color="#300c11"/><stop offset="0.4095" stop-color="#2c0c10"/><stop offset="0.4595" stop-color="#2c0c10"/></linearGradient>
<linearGradient id="g135" href="#gb"><stop offset="0.1043" stop-color="#f8ac1f"/><stop offset="0.1543" stop-color="#f8ac1f"/><stop offset="0.1745" stop-color="#f7941e"/><stop offset="0.1749" stop-color="#f7931e"/><stop offset="0.208" stop-color="#ea3d23"/><stop offset="0.2156" stop-color="#e62025"/><stop offset="0.2343" stop-color="#b81922"/><stop offset="0.2535" stop-color="#9c1420"/><stop offset="0.2611" stop-color="#92131e"/><stop offset="0.2896" stop-color="#6e1019"/><stop offset="0.3089" stop-color="#580e16"/><stop offset="0.3176" stop-color="#510e15"/><stop offset="0.3458" stop-color="#3e0d12"/><stop offset="0.3844" stop-color="#2f0c10"/><stop offset="0.4083" stop-color="#2c0c10"/><stop offset="0.4583" stop-color="#2c0c10"/></linearGradient>
<linearGradient id="g136" href="#gb"><stop offset="0.1042" stop-color="#f8ab1f"/><stop offset="0.1542" stop-color="#f8ab1f"/><stop offset="0.1732" stop-color="#f7931e"/><stop offset="0.1743" stop-color="#f7911e"/><stop offset="0.2077" stop-color="#e93624"/><stop offset="0.2137" stop-color="#e62025"/><stop offset="0.2339" stop-color="#b51822"/><stop offset="0.2512" stop-color="#9c1420"/><stop offset="0.2607" stop-color="#8f131e"/><stop offset="0.2892" stop-color="#6d1019"/><stop offset="0.3072" stop-color="#580e16"/><stop offset="0.317" stop-color="#510e15"/><stop offset="0.3452" stop-color="#3d0d12"/><stop offset="0.3836" stop-color="#2e0c10"/><stop offset="0.4073" stop-color="#2c0c10"/><stop offset="0.4573" stop-color="#2c0c10"/></linearGradient>
<linearGradient id="g137" href="#gb"><stop offset="0.104" stop-color="#f8a91f"/><stop offset="0.154" stop-color="#f8a91f"/><stop offset="0.1712" stop-color="#f7931e"/><stop offset="0.1741" stop-color="#f68e1e"/><stop offset="0.2075" stop-color="#e83024"/><stop offset="0.2118" stop-color="#e62025"/><stop offset="0.2336" stop-color="#b21822"/><stop offset="0.2489" stop-color="#9c1420"/><stop offset="0.2603" stop-color="#8d131e"/><stop offset="0.2887" stop-color="#6b1019"/><stop offset="0.3056" stop-color="#580e16"/><stop offset="0.3165" stop-color="#500e15"/><stop offset="0.3446" stop-color="#3c0d12"/><stop offset="0.3828" stop-color="#2d0c10"/><stop offset="0.4062" stop-color="#2c0c10"/><stop offset="0.4562" stop-color="#2c0c10"/></linearGradient>
<linearGradient id="g138" href="#gb"><stop offset="0.1038" stop-color="#f8a81f"/><stop offset="0.1538" stop-color="#f8a81f"/><stop offset="0.1694" stop-color="#f7931e"/><stop offset="0.1739" stop-color="#f68b1e"/><stop offset="0.2072" stop-color="#e72a24"/><stop offset="0.2099" stop-color="#e62025"/><stop offset="0.2332" stop-color="#af1721"/><stop offset="0.2466" stop-color="#9c1420"/><stop offset="0.2599" stop-color="#8a121d"/><stop offset="0.2883" stop-color="#6a1019"/><stop offset="0.3039" stop-color="#580e16"/><stop offset="0.316" stop-color="#4f0e15"/><stop offset="0.344" stop-color="#3b0d12"/><stop offset="0.3821" stop-color="#2c0c10"/><stop offset="0.4553" stop-color="#2c0c10"/></linearGradient>
<linearGradient id="g139" href="#gb"><stop offset="0.1037" stop-color="#f8a71f"/><stop offset="0.1537" stop-color="#f8a71f"/><stop offset="0.1677" stop-color="#f7931e"/><stop offset="0.1737" stop-color="#f5881f"/><stop offset="0.207" stop-color="#e72425"/><stop offset="0.208" stop-color="#e62025"/><stop offset="0.2329" stop-color="#ac1721"/><stop offset="0.2443" stop-color="#9c1420"/><stop offset="0.2595" stop-color="#88121d"/><stop offset="0.288" stop-color="#690f18"/><stop offset="0.3023" stop-color="#580e16"/><stop offset="0.3155" stop-color="#4e0e15"/><stop offset="0.3435" stop-color="#3a0d12"/><stop offset="0.3815" stop-color="#2c0c10"/><stop offset="0.4544" stop-color="#2c0c10"/></linearGradient>
<linearGradient id="g140" href="#gb"><stop offset="0.1035" stop-color="#f8a51f"/><stop offset="0.1535" stop-color="#f8a51f"/><stop offset="0.1662" stop-color="#f7931e"/><stop offset="0.1736" stop-color="#f5861f"/><stop offset="0.2059" stop-color="#e62025"/><stop offset="0.2068" stop-color="#e42025"/><stop offset="0.2326" stop-color="#a91621"/><stop offset="0.242" stop-color="#9c1420"/><stop offset="0.2592" stop-color="#85121d"/><stop offset="0.2876" stop-color="#670f18"/><stop offset="0.3008" stop-color="#580e16"/><stop offset="0.3151" stop-color="#4d0e15"/><stop offset="0.3431" stop-color="#380d12"/><stop offset="0.3809" stop-color="#2c0c10"/><stop offset="0.4535" stop-color="#2c0c10"/></linearGradient>
<linearGradient id="g141" href="#gb"><stop offset="0.1034" stop-color="#f8a41f"/><stop offset="0.1534" stop-color="#f8a41f"/><stop offset="0.1647" stop-color="#f7931e"/><stop offset="0.1734" stop-color="#f5831f"/><stop offset="0.2038" stop-color="#e62025"/><stop offset="0.2065" stop-color="#e01f25"/><stop offset="0.2324" stop-color="#a61621"/><stop offset="0.2397" stop-color="#9c1420"/><stop offset="0.2588" stop-color="#83121c"/><stop offset="0.2873" stop-color="#660f18"/><stop offset="0.2992" stop-color="#580e16"/><stop offset="0.3147" stop-color="#4d0d14"/><stop offset="0.3427" stop-color="#370d12"/><stop offset="0.3803" stop-color="#2c0c10"/><stop offset="0.4527" stop-color="#2c0c10"/></linearGradient>
<linearGradient id="g142" href="#gb"><stop offset="0.1033" stop-color="#f8a21f"/><stop offset="0.1533" stop-color="#f8a21f"/><stop offset="0.1633" stop-color="#f7931e"/><stop offset="0.1733" stop-color="#f4801f"/><stop offset="0.2018" stop-color="#e62025"/><stop offset="0.2063" stop-color="#dc1e24"/><stop offset="0.2321" stop-color="#a31520"/><stop offset="0.2374" stop-color="#9c1420"/><stop offset="0.2586" stop-color="#80121c"/><stop offset="0.287" stop-color="#640f18"/><stop offset="0.2976" stop-color="#580e16"/><stop offset="0.3143" stop-color="#4c0d14"/><stop offset="0.3423" stop-color="#360c11"/><stop offset="0.3798" stop-color="#2c0c10"/><stop offset="0.452" stop-color="#2c0c10"/></linearGradient>
<linearGradient id="g143" href="#gb"><stop offset="0.1032" stop-color="#f8a11e"/><stop offset="0.1532" stop-color="#f8a11e"/><stop offset="0.162" stop-color="#f7931e"/><stop offset="0.1732" stop-color="#f47d1f"/><stop offset="0.2" stop-color="#e62025"/><stop offset="0.2062" stop-color="#d81e24"/><stop offset="0.2319" stop-color="#a01520"/><stop offset="0.2351" stop-color="#9c1420"/><stop offset="0.2583" stop-color="#7e111c"/><stop offset="0.2867" stop-color="#630f18"/><stop offset="0.2961" stop-color="#580e16"/><stop offset="0.314" stop-color="#4b0d14"/><stop offset="0.3419" stop-color="#350c11"/><stop offset="0.3793" stop-color="#2c0c10"/><stop offset="0.4513" stop-color="#2c0c10"/></linearGradient>
<linearGradient id="g144" href="#gb"><stop offset="0.1031" stop-color="#f8a01e"/><stop offset="0.1531" stop-color="#f8a01e"/><stop offset="0.1607" stop-color="#f7931e"/><stop offset="0.173" stop-color="#f37920"/><stop offset="0.198" stop-color="#e62025"/><stop offset="0.206" stop-color="#d41d24"/><stop offset="0.2317" stop-color="#9d1420"/><stop offset="0.2327" stop-color="#9c1420"/><stop offset="0.258" stop-color="#7c111b"/><stop offset="0.2864" stop-color="#600f17"/><stop offset="0.2934" stop-color="#580e16"/><stop offset="0.3137" stop-color="#490d14"/><stop offset="0.3416" stop-color="#340c11"/><stop offset="0.3788" stop-color="#2c0c10"/><stop offset="0.4506" stop-color="#2c0c10"/></linearGradient>
<linearGradient id="g145" href="#gb"><stop offset="0.103" stop-color="#f89e1e"/><stop offset="0.153" stop-color="#f89e1e"/><stop offset="0.1595" stop-color="#f7931e"/><stop offset="0.1729" stop-color="#f37620"/><stop offset="0.1961" stop-color="#e62025"/><stop offset="0.2058" stop-color="#cf1c23"/><stop offset="0.2307" stop-color="#9c1420"/><stop offset="0.2315" stop-color="#9b1420"/><stop offset="0.2578" stop-color="#79111b"/><stop offset="0.2862" stop-color="#5d0e17"/><stop offset="0.2903" stop-color="#580e16"/><stop offset="0.3134" stop-color="#470d14"/><stop offset="0.3413" stop-color="#330c11"/><stop offset="0.3783" stop-color="#2c0c10"/><stop offset="0.45" stop-color="#2c0c10"/></linearGradient>
<linearGradient id="g146" href="#gb"><stop offset="0.1029" stop-color="#f89d1e"/><stop offset="0.1529" stop-color="#f89d1e"/><stop offset="0.1584" stop-color="#f7931e"/><stop offset="0.1728" stop-color="#f27320"/><stop offset="0.1943" stop-color="#e62025"/><stop offset="0.2057" stop-color="#ca1b23"/><stop offset="0.229" stop-color="#9c1420"/><stop offset="0.2313" stop-color="#98141f"/><stop offset="0.2576" stop-color="#77111a"/><stop offset="0.2859" stop-color="#590e16"/><stop offset="0.2872" stop-color="#580e16"/><stop offset="0.3131" stop-color="#460d13"/><stop offset="0.341" stop-color="#330c11"/><stop offset="0.3778" stop-color="#2c0c10"/><stop offset="0.4494" stop-color="#2c0c10"/></linearGradient>
<linearGradient id="g147" href="#gb"><stop offset="0.1029" stop-color="#f79b1e"/><stop offset="0.1529" stop-color="#f79b1e"/><stop offset="0.1573" stop-color="#f7931e"/><stop offset="0.1727" stop-color="#f26f20"/><stop offset="0.1927" stop-color="#e62025"/><stop offset="0.2055" stop-color="#c51b23"/><stop offset="0.2272" stop-color="#9c1420"/><stop offset="0.2311" stop-color="#95131f"/><stop offset="0.2575" stop-color="#74101a"/><stop offset="0.284" stop-color="#580e16"/><stop offset="0.2857" stop-color="#570e16"/><stop offset="0.3129" stop-color="#440d13"/><stop offset="0.3407" stop-color="#320c11"/><stop offset="0.3774" stop-color="#2c0c10"/><stop offset="0.4488" stop-color="#2c0c10"/></linearGradient>
<linearGradient id="g148" href="#gb"><stop offset="0.1028" stop-color="#f79a1e"/><stop offset="0.1528" stop-color="#f79a1e"/><stop offset="0.1563" stop-color="#f7931e"/><stop offset="0.1726" stop-color="#f16c20"/><stop offset="0.1911" stop-color="#e62025"/><stop offset="0.2054" stop-color="#c01a22"/><stop offset="0.2253" stop-color="#9c1420"/><stop offset="0.231" stop-color="#92131f"/><stop offset="0.2573" stop-color="#72101a"/><stop offset="0.2808" stop-color="#580e16"/><stop offset="0.2855" stop-color="#550e16"/><stop offset="0.3127" stop-color="#420d13"/><stop offset="0.3404" stop-color="#310c11"/><stop offset="0.377" stop-color="#2c0c10"/><stop offset="0.4483" stop-color="#2c0c10"/></linearGradient>
<linearGradient id="g149" href="#gb"><stop offset="0.1027" stop-color="#f7981e"/><stop offset="0.1527" stop-color="#f7981e"/><stop offset="0.1554" stop-color="#f7931e"/><stop offset="0.1726" stop-color="#f16921"/><stop offset="0.1897" stop-color="#e62025"/><stop offset="0.2053" stop-color="#bb1922"/><stop offset="0.2232" stop-color="#9c1420"/><stop offset="0.2308" stop-color="#90131e"/><stop offset="0.2572" stop-color="#6f1019"/><stop offset="0.2779" stop-color="#580e16"/><stop offset="0.2853" stop-color="#530e15"/><stop offset="0.3125" stop-color="#400d13"/><stop offset="0.3402" stop-color="#300c11"/><stop offset="0.3765" stop-color="#2c0c10"/><stop offset="0.4478" stop-color="#2c0c10"/></linearGradient>
<linearGradient id="g150" href="#gb"><stop offset="0.1027" stop-color="#f7971e"/><stop offset="0.1527" stop-color="#f7971e"/><stop offset="0.1545" stop-color="#f7931e"/><stop offset="0.1725" stop-color="#f06521"/><stop offset="0.1883" stop-color="#e62025"/><stop offset="0.2052" stop-color="#b71822"/><stop offset="0.221" stop-color="#9c1420"/><stop offset="0.2307" stop-color="#8d131e"/><stop offset="0.257" stop-color="#6d1019"/><stop offset="0.2751" stop-color="#580e16"/><stop offset="0.2851" stop-color="#510e15"/><stop offset="0.3123" stop-color="#3e0d12"/><stop offset="0.3399" stop-color="#300c10"/><stop offset="0.3761" stop-color="#2c0c10"/><stop offset="0.4474" stop-color="#2c0c10"/></linearGradient>
<linearGradient id="g151" href="#gb"><stop offset="0.1026" stop-color="#f7951e"/><stop offset="0.1526" stop-color="#f7951e"/><stop offset="0.1537" stop-color="#f7931e"/><stop offset="0.1724" stop-color="#f06221"/><stop offset="0.1871" stop-color="#e62025"/><stop offset="0.2051" stop-color="#b21821"/><stop offset="0.2186" stop-color="#9c1420"/><stop offset="0.2306" stop-color="#8a121d"/><stop offset="0.2569" stop-color="#6a1019"/><stop offset="0.2725" stop-color="#580e16"/><stop offset="0.285" stop-color="#4e0e15"/><stop offset="0.3121" stop-color="#3c0d12"/><stop offset="0.3397" stop-color="#2f0c10"/><stop offset="0.3757" stop-color="#2c0c10"/><stop offset="0.447" stop-color="#2c0c10"/></linearGradient>
<linearGradient id="g152" href="#gb"><stop offset="0.1026" stop-color="#f7941e"/><stop offset="0.1526" stop-color="#f7941e"/><stop offset="0.1529" stop-color="#f7931e"/><stop offset="0.1724" stop-color="#ef5f21"/><stop offset="0.1859" stop-color="#e62025"/><stop offset="0.205" stop-color="#ad1721"/><stop offset="0.216" stop-color="#9c1420"/><stop offset="0.2305" stop-color="#88121d"/><stop offset="0.2569" stop-color="#680f18"/><stop offset="0.2699" stop-color="#580e16"/><stop offset="0.2848" stop-color="#4c0d14"/><stop offset="0.312" stop-color="#3a0d12"/><stop offset="0.3395" stop-color="#2e0c10"/><stop offset="0.3754" stop-color="#2c0c10"/><stop offset="0.4466" stop-color="#2c0c10"/></linearGradient>
<linearGradient id="g153" href="#gb"><stop offset="0.1026" stop-color="#f7921e"/><stop offset="0.1526" stop-color="#f7921e"/><stop offset="0.1723" stop-color="#ef5b21"/><stop offset="0.1847" stop-color="#e62025"/><stop offset="0.2049" stop-color="#a81621"/><stop offset="0.2131" stop-color="#9c1420"/><stop offset="0.2304" stop-color="#85121d"/><stop offset="0.2568" stop-color="#650f18"/><stop offset="0.2676" stop-color="#580e16"/><stop offset="0.2847" stop-color="#4a0d14"/><stop offset="0.3119" stop-color="#380d12"/><stop offset="0.3393" stop-color="#2d0c10"/><stop offset="0.375" stop-color="#2c0c10"/><stop offset="0.4462" stop-color="#2c0c10"/></linearGradient>
<linearGradient id="g154" href="#gb"><stop offset="0.1026" stop-color="#f7901e"/><stop offset="0.1526" stop-color="#f7901e"/><stop offset="0.1723" stop-color="#ee5822"/><stop offset="0.1837" stop-color="#e62025"/><stop offset="0.2048" stop-color="#a31520"/><stop offset="0.21" stop-color="#9c1420"/><stop offset="0.2303" stop-color="#82121c"/><stop offset="0.2567" stop-color="#630f18"/><stop offset="0.2653" stop-color="#580e16"/><stop offset="0.2846" stop-color="#480d14"/><stop offset="0.3118" stop-color="#360c11"/><stop offset="0.3391" stop-color="#2c0c10"/><stop offset="0.4458" stop-color="#2c0c10"/></linearGradient>
<linearGradient id="g155" href="#gb"><stop offset="0.1025" stop-color="#f68e1e"/><stop offset="0.1525" stop-color="#f68e1e"/><stop offset="0.1723" stop-color="#e52"/><stop offset="0.1827" stop-color="#e62025"/><stop offset="0.2048" stop-color="#9e1420"/><stop offset="0.2065" stop-color="#9c1420"/><stop offset="0.2303" stop-color="#7f111c"/><stop offset="0.2567" stop-color="#600f17"/><stop offset="0.2632" stop-color="#580e16"/><stop offset="0.2845" stop-color="#460d14"/><stop offset="0.3117" stop-color="#340c11"/><stop offset="0.3389" stop-color="#2c0c10"/><stop offset="0.4455" stop-color="#2c0c10"/></linearGradient>
<linearGradient id="g156" href="#gb"><stop offset="0.1025" stop-color="#f68c1e"/><stop offset="0.1525" stop-color="#f68c1e"/><stop offset="0.1722" stop-color="#ed5122"/><stop offset="0.1818" stop-color="#e62025"/><stop offset="0.2039" stop-color="#9c1420"/><stop offset="0.2047" stop-color="#9a1420"/><stop offset="0.2302" stop-color="#7d111b"/><stop offset="0.2567" stop-color="#5e0f17"/><stop offset="0.2611" stop-color="#580e16"/><stop offset="0.2844" stop-color="#440d13"/><stop offset="0.3116" stop-color="#320c11"/><stop offset="0.3388" stop-color="#2c0c10"/><stop offset="0.4452" stop-color="#2c0c10"/></linearGradient>
<linearGradient id="g157" href="#gb"><stop offset="0.1025" stop-color="#f68a1f"/><stop offset="0.1525" stop-color="#f68a1f"/><stop offset="0.1722" stop-color="#ed4e22"/><stop offset="0.1809" stop-color="#e62025"/><stop offset="0.2025" stop-color="#9c1420"/><stop offset="0.2046" stop-color="#95131f"/><stop offset="0.2302" stop-color="#7a111b"/><stop offset="0.2567" stop-color="#5b0e16"/><stop offset="0.2592" stop-color="#580e16"/><stop offset="0.2843" stop-color="#420d13"/><stop offset="0.3116" stop-color="#300c11"/><stop offset="0.3386" stop-color="#2c0c10"/><stop offset="0.4449" stop-color="#2c0c10"/></linearGradient>
<linearGradient id="g158" href="#gb"><stop offset="0.1025" stop-color="#f4821f"/><stop offset="0.1525" stop-color="#f4821f"/><stop offset="0.1722" stop-color="#ec4623"/><stop offset="0.1793" stop-color="#e62025"/><stop offset="0.201" stop-color="#9c1420"/><stop offset="0.2046" stop-color="#91131e"/><stop offset="0.2302" stop-color="#75111a"/><stop offset="0.256" stop-color="#580e16"/><stop offset="0.2567" stop-color="#570e16"/><stop offset="0.2842" stop-color="#400d13"/><stop offset="0.3115" stop-color="#300c11"/><stop offset="0.3385" stop-color="#2c0c10"/><stop offset="0.4446" stop-color="#2c0c10"/></linearGradient>
<linearGradient id="g159" href="#gb"><stop offset="0.1025" stop-color="#f37920"/><stop offset="0.1525" stop-color="#f37920"/><stop offset="0.1722" stop-color="#ea3d23"/><stop offset="0.1777" stop-color="#e62025"/><stop offset="0.1995" stop-color="#9c1420"/><stop offset="0.2046" stop-color="#8c131e"/><stop offset="0.2301" stop-color="#70101a"/><stop offset="0.2521" stop-color="#580e16"/><stop offset="0.2567" stop-color="#550e16"/><stop offset="0.2842" stop-color="#3f0d13"/><stop offset="0.3115" stop-color="#2f0c10"/><stop offset="0.3384" stop-color="#2c0c10"/><stop offset="0.4443" stop-color="#2c0c10"/></linearGradient>
<linearGradient id="g160" href="#gb"><stop offset="0.1025" stop-color="#f27020"/><stop offset="0.1525" stop-color="#f27020"/><stop offset="0.1722" stop-color="#e93524"/><stop offset="0.1761" stop-color="#e62025"/><stop offset="0.198" stop-color="#9c1420"/><stop offset="0.2045" stop-color="#88121d"/><stop offset="0.2301" stop-color="#6b1019"/><stop offset="0.2481" stop-color="#580e16"/><stop offset="0.2567" stop-color="#520e15"/><stop offset="0.2841" stop-color="#3d0d12"/><stop offset="0.3115" stop-color="#2f0c10"/><stop offset="0.3383" stop-color="#2c0c10"/><stop offset="0.444" stop-color="#2c0c10"/></linearGradient>
<linearGradient id="g161" href="#gb"><stop offset="0.1026" stop-color="#f16721"/><stop offset="0.1526" stop-color="#f16721"/><stop offset="0.1722" stop-color="#e82c24"/><stop offset="0.1745" stop-color="#e62025"/><stop offset="0.1966" stop-color="#9c1420"/><stop offset="0.2045" stop-color="#83121c"/><stop offset="0.2301" stop-color="#660f18"/><stop offset="0.2438" stop-color="#580e16"/><stop offset="0.2568" stop-color="#4f0e15"/><stop offset="0.2841" stop-color="#3c0d12"/><stop offset="0.3115" stop-color="#2e0c10"/><stop offset="0.3382" stop-color="#2c0c10"/><stop offset="0.4438" stop-color="#2c0c10"/></linearGradient>
<linearGradient id="g162" href="#gb"><stop offset="0.1026" stop-color="#ef5f21"/><stop offset="0.1526" stop-color="#ef5f21"/><stop offset="0.1722" stop-color="#e72425"/><stop offset="0.1729" stop-color="#e62025"/><stop offset="0.1951" stop-color="#9c1420"/><stop offset="0.2045" stop-color="#7f111c"/><stop offset="0.2301" stop-color="#610f17"/><stop offset="0.2393" stop-color="#580e16"/><stop offset="0.2568" stop-color="#4d0d14"/><stop offset="0.2841" stop-color="#3a0d12"/><stop offset="0.3115" stop-color="#2d0c10"/><stop offset="0.3381" stop-color="#2c0c10"/><stop offset="0.4435" stop-color="#2c0c10"/></linearGradient>
<linearGradient id="g163" href="#gb"><stop offset="0.1026" stop-color="#ee5622"/><stop offset="0.1526" stop-color="#ee5622"/><stop offset="0.1707" stop-color="#e62025"/><stop offset="0.1722" stop-color="#e32025"/><stop offset="0.1935" stop-color="#9c1420"/><stop offset="0.2045" stop-color="#7a111b"/><stop offset="0.2302" stop-color="#5c0e17"/><stop offset="0.2346" stop-color="#580e16"/><stop offset="0.2569" stop-color="#4a0d14"/><stop offset="0.284" stop-color="#380d12"/><stop offset="0.3116" stop-color="#2d0c10"/><stop offset="0.338" stop-color="#2c0c10"/><stop offset="0.4433" stop-color="#2c0c10"/></linearGradient>
<linearGradient id="g164" href="#gb"><stop offset="0.1026" stop-color="#ed4d22"/><stop offset="0.1526" stop-color="#ed4d22"/><stop offset="0.1678" stop-color="#e62025"/><stop offset="0.1722" stop-color="#de1f24"/><stop offset="0.192" stop-color="#9c1420"/><stop offset="0.2045" stop-color="#76111a"/><stop offset="0.2297" stop-color="#580e16"/><stop offset="0.2302" stop-color="#580e16"/><stop offset="0.257" stop-color="#470d14"/><stop offset="0.284" stop-color="#370c11"/><stop offset="0.3116" stop-color="#2c0c10"/><stop offset="0.4431" stop-color="#2c0c10"/></linearGradient>
<linearGradient id="g165" href="#gb"><stop offset="0.1026" stop-color="#eb4123"/><stop offset="0.1526" stop-color="#eb4123"/><stop offset="0.1641" stop-color="#e62025"/><stop offset="0.1722" stop-color="#d71e24"/><stop offset="0.1903" stop-color="#9c1420"/><stop offset="0.2045" stop-color="#72101a"/><stop offset="0.2256" stop-color="#580e16"/><stop offset="0.2302" stop-color="#540e16"/><stop offset="0.2571" stop-color="#440d13"/><stop offset="0.284" stop-color="#350c11"/><stop offset="0.3117" stop-color="#2c0c10"/><stop offset="0.4428" stop-color="#2c0c10"/></linearGradient>
<linearGradient id="g166" href="#gb"><stop offset="0.1027" stop-color="#e93324"/><stop offset="0.1527" stop-color="#e93324"/><stop offset="0.1593" stop-color="#e62025"/><stop offset="0.1723" stop-color="#ce1c23"/><stop offset="0.1883" stop-color="#9c1420"/><stop offset="0.2045" stop-color="#6d1019"/><stop offset="0.2217" stop-color="#580e16"/><stop offset="0.2302" stop-color="#510e15"/><stop offset="0.2571" stop-color="#420d13"/><stop offset="0.284" stop-color="#340c11"/><stop offset="0.3117" stop-color="#2c0c10"/><stop offset="0.4426" stop-color="#2c0c10"/></linearGradient>
<linearGradient id="g167" href="#gb"><stop offset="0.1027" stop-color="#e72425"/><stop offset="0.1527" stop-color="#e72425"/><stop offset="0.1541" stop-color="#e62025"/><stop offset="0.1723" stop-color="#c61b23"/><stop offset="0.1861" stop-color="#9c1420"/><stop offset="0.2045" stop-color="#690f18"/><stop offset="0.2179" stop-color="#580e16"/><stop offset="0.2303" stop-color="#4e0e15"/><stop offset="0.2572" stop-color="#3f0d13"/><stop offset="0.284" stop-color="#320c11"/><stop offset="0.3118" stop-color="#2c0c10"/><stop offset="0.4424" stop-color="#2c0c10"/></linearGradient>
<linearGradient id="g168" href="#gb"><stop offset="0.1027" stop-color="#df1f25"/><stop offset="0.1527" stop-color="#df1f25"/><stop offset="0.1723" stop-color="#be1922"/><stop offset="0.1838" stop-color="#9c1420"/><stop offset="0.2045" stop-color="#640f18"/><stop offset="0.2142" stop-color="#580e16"/><stop offset="0.2303" stop-color="#4b0d14"/><stop offset="0.2573" stop-color="#3c0d12"/><stop offset="0.284" stop-color="#300c11"/><stop offset="0.3119" stop-color="#2c0c10"/><stop offset="0.4423" stop-color="#2c0c10"/></linearGradient>
<linearGradient id="g169" href="#gb"><stop offset="0.1028" stop-color="#d51d24"/><stop offset="0.1528" stop-color="#d51d24"/><stop offset="0.1723" stop-color="#b61822"/><stop offset="0.1814" stop-color="#9c1420"/><stop offset="0.2045" stop-color="#600f17"/><stop offset="0.2106" stop-color="#580e16"/><stop offset="0.2304" stop-color="#480d14"/><stop offset="0.2574" stop-color="#3a0d12"/><stop offset="0.2841" stop-color="#2f0c10"/><stop offset="0.3119" stop-color="#2c0c10"/><stop offset="0.4421" stop-color="#2c0c10"/></linearGradient>
<linearGradient id="g170" href="#gb"><stop offset="0.1028" stop-color="#cc1c23"/><stop offset="0.1528" stop-color="#cc1c23"/><stop offset="0.1724" stop-color="#ad1721"/><stop offset="0.1787" stop-color="#9c1420"/><stop offset="0.2046" stop-color="#5b0e16"/><stop offset="0.2071" stop-color="#580e16"/><stop offset="0.2304" stop-color="#440d13"/><stop offset="0.2575" stop-color="#370c11"/><stop offset="0.2841" stop-color="#2d0c10"/><stop offset="0.312" stop-color="#2c0c10"/><stop offset="0.4419" stop-color="#2c0c10"/></linearGradient>
<linearGradient id="g171" href="#gb"><stop offset="0.1029" stop-color="#c21a23"/><stop offset="0.1529" stop-color="#c21a23"/><stop offset="0.1724" stop-color="#a41521"/><stop offset="0.1756" stop-color="#9c1420"/><stop offset="0.2039" stop-color="#580e16"/><stop offset="0.2046" stop-color="#570e16"/><stop offset="0.2305" stop-color="#410d13"/><stop offset="0.2577" stop-color="#340c11"/><stop offset="0.2841" stop-color="#2c0c10"/><stop offset="0.4418" stop-color="#2c0c10"/></linearGradient>
<linearGradient id="g172" href="#gb"><stop offset="0.1029" stop-color="#b51822"/><stop offset="0.1529" stop-color="#b51822"/><stop offset="0.1705" stop-color="#9c1420"/><stop offset="0.1724" stop-color="#991420"/><stop offset="0.2012" stop-color="#580e16"/><stop offset="0.2046" stop-color="#530e15"/><stop offset="0.2305" stop-color="#3f0d13"/><stop offset="0.2578" stop-color="#330c11"/><stop offset="0.2842" stop-color="#2c0c10"/><stop offset="0.4416" stop-color="#2c0c10"/></linearGradient>
<linearGradient id="g173" href="#gb"><stop offset="0.103" stop-color="#a81621"/><stop offset="0.153" stop-color="#a81621"/><stop offset="0.1622" stop-color="#9c1420"/><stop offset="0.1725" stop-color="#8f131e"/><stop offset="0.1981" stop-color="#580e16"/><stop offset="0.2046" stop-color="#4f0e15"/><stop offset="0.2306" stop-color="#3c0d12"/><stop offset="0.2579" stop-color="#320c11"/><stop offset="0.2842" stop-color="#2c0c10"/><stop offset="0.4415" stop-color="#2c0c10"/></linearGradient>
<linearGradient id="g174" href="#gb"><stop offset="0.103" stop-color="#9c1420"/><stop offset="0.153" stop-color="#9c1420"/><stop offset="0.1725" stop-color="#85121d"/><stop offset="0.1947" stop-color="#580e16"/><stop offset="0.2047" stop-color="#4b0d14"/><stop offset="0.2307" stop-color="#3a0d12"/><stop offset="0.258" stop-color="#300c11"/><stop offset="0.2842" stop-color="#2c0c10"/><stop offset="0.4414" stop-color="#2c0c10"/></linearGradient>
<linearGradient id="g175" href="#gb"><stop offset="0.103" stop-color="#90131e"/><stop offset="0.153" stop-color="#90131e"/><stop offset="0.1725" stop-color="#7b111b"/><stop offset="0.1908" stop-color="#580e16"/><stop offset="0.2047" stop-color="#470d14"/><stop offset="0.2307" stop-color="#370d12"/><stop offset="0.2581" stop-color="#2f0c10"/><stop offset="0.2843" stop-color="#2c0c10"/><stop offset="0.4412" stop-color="#2c0c10"/></linearGradient>
<linearGradient id="g176" href="#gb"><stop offset="0.1031" stop-color="#84121d"/><stop offset="0.1531" stop-color="#84121d"/><stop offset="0.1726" stop-color="#70101a"/><stop offset="0.1864" stop-color="#580e16"/><stop offset="0.2047" stop-color="#430d13"/><stop offset="0.2308" stop-color="#350c11"/><stop offset="0.2583" stop-color="#2d0c10"/><stop offset="0.2843" stop-color="#2c0c10"/><stop offset="0.4411" stop-color="#2c0c10"/></linearGradient>
<linearGradient id="g177" href="#gb"><stop offset="0.1031" stop-color="#78111b"/><stop offset="0.1531" stop-color="#78111b"/><stop offset="0.1726" stop-color="#660f18"/><stop offset="0.181" stop-color="#580e16"/><stop offset="0.2048" stop-color="#3f0d13"/><stop offset="0.2309" stop-color="#320c11"/><stop offset="0.2584" stop-color="#2c0c10"/><stop offset="0.441" stop-color="#2c0c10"/></linearGradient>
<linearGradient id="g178" href="#gb"><stop offset="0.1032" stop-color="#6b1019"/><stop offset="0.1532" stop-color="#6b1019"/><stop offset="0.1727" stop-color="#5b0e16"/><stop offset="0.1745" stop-color="#580e16"/><stop offset="0.2048" stop-color="#3b0d12"/><stop offset="0.2309" stop-color="#300c11"/><stop offset="0.2585" stop-color="#2c0c10"/><stop offset="0.4409" stop-color="#2c0c10"/></linearGradient>
<linearGradient id="g179" href="#gb"><stop offset="0.1032" stop-color="#5f0f17"/><stop offset="0.1532" stop-color="#5f0f17"/><stop offset="0.1622" stop-color="#580e16"/><stop offset="0.1727" stop-color="#530e15"/><stop offset="0.2049" stop-color="#370c11"/><stop offset="0.231" stop-color="#2d0c10"/><stop offset="0.2586" stop-color="#2c0c10"/><stop offset="0.4408" stop-color="#2c0c10"/></linearGradient>
<linearGradient id="g180" href="#gb"><stop offset="0.1032" stop-color="#550e16"/><stop offset="0.1532" stop-color="#550e16"/><stop offset="0.1727" stop-color="#4c0d14"/><stop offset="0.2049" stop-color="#340c11"/><stop offset="0.2311" stop-color="#2c0c10"/><stop offset="0.4408" stop-color="#2c0c10"/></linearGradient>
<linearGradient id="g181" href="#gb"><stop offset="0.1033" stop-color="#4d0e15"/><stop offset="0.1533" stop-color="#4d0e15"/><stop offset="0.1728" stop-color="#460d14"/><stop offset="0.2049" stop-color="#320c11"/><stop offset="0.2312" stop-color="#2c0c10"/><stop offset="0.4407" stop-color="#2c0c10"/></linearGradient>
<linearGradient id="g182" href="#gb"><stop offset="0.1033" stop-color="#460d14"/><stop offset="0.1533" stop-color="#460d14"/><stop offset="0.1728" stop-color="#410d13"/><stop offset="0.205" stop-color="#300c11"/><stop offset="0.2312" stop-color="#2c0c10"/><stop offset="0.4406" stop-color="#2c0c10"/></linearGradient>
<linearGradient id="g183" href="#gb"><stop offset="0.1034" stop-color="#3f0d13"/><stop offset="0.1534" stop-color="#3f0d13"/><stop offset="0.1728" stop-color="#3b0d12"/><stop offset="0.205" stop-color="#2f0c10"/><stop offset="0.2313" stop-color="#2c0c10"/><stop offset="0.4406" stop-color="#2c0c10"/></linearGradient>
<linearGradient id="g184" href="#gb"><stop offset="0.1034" stop-color="#380d12"/><stop offset="0.1534" stop-color="#380d12"/><stop offset="0.1729" stop-color="#350c11"/><stop offset="0.2051" stop-color="#2d0c10"/><stop offset="0.2313" stop-color="#2c0c10"/><stop offset="0.4405" stop-color="#2c0c10"/></linearGradient>
<linearGradient id="g185" href="#gb"><stop offset="0.1034" stop-color="#310c11"/><stop offset="0.1534" stop-color="#310c11"/><stop offset="0.1729" stop-color="#300c11"/><stop offset="0.2051" stop-color="#2c0c10"/><stop offset="0.4404" stop-color="#2c0c10"/></linearGradient>
<clipPath id="cp"><path d="M296.6 66C301 66.4 304.4 69 304.7 81L304.7 84L304.6 90L304.5 96L304.4 102L304.3 108L304 114L303.7 120L303.3 126L302.8 132L302.2 138L301.5 144L300.7 150L299.8 156L298.7 162L297.5 168L296.2 174L294.9 180L293.4 186L291.9 192L290.3 198L288.7 204L287 210L285.2 216L283.4 222L281.5 228L279.6 234L277.7 240L275.7 246L273.6 252L271.5 258L269.4 264L267.2 270L265 276L262.8 282L260.5 288L258.2 294L255.9 300L253.6 306L251.2 312L248.8 318L246.4 324L243.9 330L241.5 336L239 342L236.5 348L234.1 354L231.6 360L229 366L226.5 372L224 378L221.4 384L218.8 390L216.2 396L213.6 402L211 408L208.5 414L206 420L203.5 426L201 432L198.7 438L196.4 444L194.2 450L192.1 456L190.1 462L188.2 468L186.3 474L184.6 480L182.9 486L181.4 492L179.9 498L178.5 504L177.2 510L175.9 516L174.7 522L173.6 528L172.5 534L171.5 540L170.6 546L169.7 552L168.9 558L168.1 564L167.4 570L166.7 576L166.1 582L165.5 588L165 594L164.5 600L164 606L163.6 612L163.2 618L162.9 624L162.6 630L162.3 636L162 642L161.7 648L161.5 654L161.3 660L161.1 666L161 672L160.8 678L160.7 684L160.6 690L160.4 696L160.3 702L160.2 708L160.1 714L160 720L159.9 726L159.9 732L159.8 738L159.7 744L159.7 750L159.6 756L159.5 762L159.5 768L159.5 774L159.4 780L159.4 786L159.4 792L159.3 798L159.3 804L159.3 810L159.3 816L159.3 822L159.3 828L159.3 834L159.3 840L159.3 846L159.3 852L159.3 858L159.3 864L159.3 870L159.3 876L159.3 882L159.3 888L159.3 894L159.3 898.3Q159.3 906.3 151.3 906.3L100.6 906.3Q92.6 906.3 92.6 898.3L92.7 895.3L92.8 890.3L92.8 885.3L92.9 880.3L92.9 875.3L92.9 870.3L92.9 865.3L92.9 860.3L93 855.3L93 850.3L93 845.3L93 840.3L93 835.3L93 830.3L93 825.3L93 820.3L93 815.3L93 810.3L93 805.3L93 800.3L92.9 795.3L92.9 790.3L92.9 785.3L92.9 780.3L92.9 775.3L92.9 770.3L92.9 765.3L92.8 760.3L92.8 755.3L92.8 750.3L92.8 745.3L92.8 740.3L92.8 735.3L92.8 730.3L92.7 725.3L92.7 720.3L92.7 715.3L92.7 710.3L92.7 705.3L92.7 700.3L92.7 695.3L92.7 690.3L92.7 685.3L92.7 680.3L92.7 675.3L92.7 670.3L92.7 665.3L92.8 660.3L92.8 655.3L92.8 650.3L92.8 645.3L92.9 640.3L92.9 635.3L92.9 630.3L93 625.3L93 620.3L93.1 615.3L93.1 610.3L93.2 605.3L93.2 600.3L93.3 595.3L93.4 590.3L93.5 585.3L93.5 580.3L93.6 575.3L93.7 570.3L93.8 565.3L93.9 560.3L94.1 555.3L94.2 550.3L94.3 545.3L94.4 540.3L94.5 535.3L94.6 530.3L94.7 525.3L94.9 520.3L95 515.3L95.1 510.3L95.2 505.3L95.3 500.3L95.4 495.3L95.5 490.3L95.6 485.3L95.7 480.3L95.8 475.3L95.9 470.3L96 465.3L96 460.3L96.1 455.3L96.2 450.3L96.2 445.3L96.2 440.3L96.3 435.3L96.3 430.3L96.3 425.3L96.3 420.3L96.2 415.3L96.2 410.3L96.2 405.3L96.1 400.3L96 395.3L95.9 390.3L95.8 385.3L95.7 380.3L95.6 375.3L95.4 370.3L95.2 365.3L94.9 360.3L94.5 355.3L94.1 350.3L93.5 345.3L92.8 340.3L91.9 335.3L90.9 330.3L89.8 325.3L88.4 320.3L86.8 315.3L85.1 310.3L83.1 305.3L81.1 300.3L79.6 297.5L76.3 292.6C73.4 288.6 71 285 72 280.3L75 270L77.1 264.7L79.2 259.4L81.3 254.1L83.4 248.8L85.5 243.5L87.7 238.3L90 233.1L92.4 227.9L94.8 222.7L97.1 217.5L99.4 212.3L101.8 207.1L104.1 201.9L106.5 196.8L109 191.6L111.6 186.6L114.2 181.5L116.9 176.5L119.6 171.4L122.4 166.5L125.3 161.6L128.3 156.7L131.4 152L134.6 147.3L138 142.7L141.5 138.1L145 133.7L148.8 129.3L152.6 125.1L156.6 121.1L160.8 117.3L165.2 113.6L169.8 110.2L174.4 106.9L179.1 103.6L183.8 100.4L188.6 97.3L193.4 94.3L198.4 91.4L203.4 88.7L208.5 86.3L213.7 84L219 81.8L224.3 79.7L229.7 77.8L235.1 76L240.5 74.3L246 72.8L251.6 71.5L257.1 70.2L262.7 69.1L268.3 67.9L273.9 66.9L279.6 66L285.2 65.5L290.9 65.4L296.6 66Z"/></clipPath>
<filter id="bl" x="0" y="0" width="1000" height="1000" filterUnits="userSpaceOnUse"><feGaussianBlur stdDeviation="1.6"/></filter>
<filter id="sh" x="-20%" y="-20%" width="150%" height="150%"><feGaussianBlur stdDeviation="1.6"/></filter>
<g id="flight">
 <g clip-path="url(#cp)">
  <g filter="url(#bl)">
   <rect x="40" y="50" width="300" height="870" fill="#8dd4ef"/>
   <g id="bands">
<rect x="40" width="300" y="60" height="4.6" fill="#8dd4ee"/>
<rect x="40" width="300" y="64" height="4.6" fill="#8dd4ee"/>
<rect x="40" width="300" y="68" height="4.6" fill="#8dd4ee"/>
<rect x="40" width="300" y="72" height="4.6" fill="#8dd4ee"/>
<rect x="40" width="300" y="76" height="4.6" fill="#8dd4ee"/>
<rect x="40" width="300" y="80" height="4.6" fill="url(#g5)"/>
<rect x="40" width="300" y="84" height="4.6" fill="url(#g6)"/>
<rect x="40" width="300" y="88" height="4.6" fill="url(#g7)"/>
<rect x="40" width="300" y="92" height="4.6" fill="url(#g8)"/>
<rect x="40" width="300" y="96" height="4.6" fill="url(#g9)"/>
<rect x="40" width="300" y="100" height="4.6" fill="url(#g10)"/>
<rect x="40" width="300" y="104" height="4.6" fill="url(#g11)"/>
<rect x="40" width="300" y="108" height="4.6" fill="url(#g12)"/>
<rect x="40" width="300" y="112" height="4.6" fill="url(#g13)"/>
<rect x="40" width="300" y="116" height="4.6" fill="url(#g14)"/>
<rect x="40" width="300" y="120" height="4.6" fill="url(#g15)"/>
<rect x="40" width="300" y="124" height="4.6" fill="url(#g16)"/>
<rect x="40" width="300" y="128" height="4.6" fill="url(#g17)"/>
<rect x="40" width="300" y="132" height="4.6" fill="url(#g18)"/>
<rect x="40" width="300" y="136" height="4.6" fill="url(#g19)"/>
<rect x="40" width="300" y="140" height="4.6" fill="url(#g20)"/>
<rect x="40" width="300" y="144" height="4.6" fill="url(#g21)"/>
<rect x="40" width="300" y="148" height="4.6" fill="url(#g22)"/>
<rect x="40" width="300" y="152" height="4.6" fill="url(#g23)"/>
<rect x="40" width="300" y="156" height="4.6" fill="url(#g24)"/>
<rect x="40" width="300" y="160" height="4.6" fill="url(#g25)"/>
<rect x="40" width="300" y="164" height="4.6" fill="url(#g26)"/>
<rect x="40" width="300" y="168" height="4.6" fill="url(#g27)"/>
<rect x="40" width="300" y="172" height="4.6" fill="url(#g28)"/>
<rect x="40" width="300" y="176" height="4.6" fill="url(#g29)"/>
<rect x="40" width="300" y="180" height="4.6" fill="url(#g30)"/>
<rect x="40" width="300" y="184" height="4.6" fill="url(#g31)"/>
<rect x="40" width="300" y="188" height="4.6" fill="url(#g32)"/>
<rect x="40" width="300" y="192" height="4.6" fill="url(#g33)"/>
<rect x="40" width="300" y="196" height="4.6" fill="url(#g34)"/>
<rect x="40" width="300" y="200" height="4.6" fill="url(#g35)"/>
<rect x="40" width="300" y="204" height="4.6" fill="url(#g36)"/>
<rect x="40" width="300" y="208" height="4.6" fill="url(#g37)"/>
<rect x="40" width="300" y="212" height="4.6" fill="url(#g38)"/>
<rect x="40" width="300" y="216" height="4.6" fill="url(#g39)"/>
<rect x="40" width="300" y="220" height="4.6" fill="url(#g40)"/>
<rect x="40" width="300" y="224" height="4.6" fill="url(#g41)"/>
<rect x="40" width="300" y="228" height="4.6" fill="url(#g42)"/>
<rect x="40" width="300" y="232" height="4.6" fill="url(#g43)"/>
<rect x="40" width="300" y="236" height="4.6" fill="url(#g44)"/>
<rect x="40" width="300" y="240" height="4.6" fill="url(#g45)"/>
<rect x="40" width="300" y="244" height="4.6" fill="url(#g46)"/>
<rect x="40" width="300" y="248" height="4.6" fill="url(#g47)"/>
<rect x="40" width="300" y="252" height="4.6" fill="url(#g48)"/>
<rect x="40" width="300" y="256" height="4.6" fill="url(#g49)"/>
<rect x="40" width="300" y="260" height="4.6" fill="url(#g50)"/>
<rect x="40" width="300" y="264" height="4.6" fill="url(#g51)"/>
<rect x="40" width="300" y="268" height="4.6" fill="url(#g52)"/>
<rect x="40" width="300" y="272" height="4.6" fill="url(#g53)"/>
<rect x="40" width="300" y="276" height="4.6" fill="url(#g54)"/>
<rect x="40" width="300" y="280" height="4.6" fill="url(#g55)"/>
<rect x="40" width="300" y="284" height="4.6" fill="url(#g56)"/>
<rect x="40" width="300" y="288" height="4.6" fill="url(#g57)"/>
<rect x="40" width="300" y="292" height="4.6" fill="url(#g58)"/>
<rect x="40" width="300" y="296" height="4.6" fill="url(#g59)"/>
<rect x="40" width="300" y="300" height="4.6" fill="url(#g60)"/>
<rect x="40" width="300" y="304" height="4.6" fill="url(#g61)"/>
<rect x="40" width="300" y="308" height="4.6" fill="url(#g62)"/>
<rect x="40" width="300" y="312" height="4.6" fill="url(#g63)"/>
<rect x="40" width="300" y="316" height="4.6" fill="url(#g64)"/>
<rect x="40" width="300" y="320" height="4.6" fill="url(#g65)"/>
<rect x="40" width="300" y="324" height="4.6" fill="url(#g66)"/>
<rect x="40" width="300" y="328" height="4.6" fill="url(#g67)"/>
<rect x="40" width="300" y="332" height="4.6" fill="url(#g68)"/>
<rect x="40" width="300" y="336" height="4.6" fill="url(#g69)"/>
<rect x="40" width="300" y="340" height="4.6" fill="url(#g70)"/>
<rect x="40" width="300" y="344" height="4.6" fill="url(#g71)"/>
<rect x="40" width="300" y="348" height="4.6" fill="url(#g72)"/>
<rect x="40" width="300" y="352" height="4.6" fill="url(#g73)"/>
<rect x="40" width="300" y="356" height="4.6" fill="url(#g74)"/>
<rect x="40" width="300" y="360" height="4.6" fill="url(#g75)"/>
<rect x="40" width="300" y="364" height="4.6" fill="url(#g76)"/>
<rect x="40" width="300" y="368" height="4.6" fill="url(#g77)"/>
<rect x="40" width="300" y="372" height="4.6" fill="url(#g78)"/>
<rect x="40" width="300" y="376" height="4.6" fill="url(#g79)"/>
<rect x="40" width="300" y="380" height="4.6" fill="url(#g80)"/>
<rect x="40" width="300" y="384" height="4.6" fill="url(#g81)"/>
<rect x="40" width="300" y="388" height="4.6" fill="url(#g82)"/>
<rect x="40" width="300" y="392" height="4.6" fill="url(#g83)"/>
<rect x="40" width="300" y="396" height="4.6" fill="url(#g84)"/>
<rect x="40" width="300" y="400" height="4.6" fill="url(#g85)"/>
<rect x="40" width="300" y="404" height="4.6" fill="url(#g86)"/>
<rect x="40" width="300" y="408" height="4.6" fill="url(#g87)"/>
<rect x="40" width="300" y="412" height="4.6" fill="url(#g88)"/>
<rect x="40" width="300" y="416" height="4.6" fill="url(#g89)"/>
<rect x="40" width="300" y="420" height="4.6" fill="url(#g90)"/>
<rect x="40" width="300" y="424" height="4.6" fill="url(#g91)"/>
<rect x="40" width="300" y="428" height="4.6" fill="url(#g92)"/>
<rect x="40" width="300" y="432" height="4.6" fill="url(#g93)"/>
<rect x="40" width="300" y="436" height="4.6" fill="url(#g94)"/>
<rect x="40" width="300" y="440" height="4.6" fill="url(#g95)"/>
<rect x="40" width="300" y="444" height="4.6" fill="url(#g96)"/>
<rect x="40" width="300" y="448" height="4.6" fill="url(#g97)"/>
<rect x="40" width="300" y="452" height="4.6" fill="url(#g98)"/>
<rect x="40" width="300" y="456" height="4.6" fill="url(#g99)"/>
<rect x="40" width="300" y="460" height="4.6" fill="url(#g100)"/>
<rect x="40" width="300" y="464" height="4.6" fill="url(#g101)"/>
<rect x="40" width="300" y="468" height="4.6" fill="url(#g102)"/>
<rect x="40" width="300" y="472" height="4.6" fill="url(#g103)"/>
<rect x="40" width="300" y="476" height="4.6" fill="url(#g104)"/>
<rect x="40" width="300" y="480" height="4.6" fill="url(#g105)"/>
<rect x="40" width="300" y="484" height="4.6" fill="url(#g106)"/>
<rect x="40" width="300" y="488" height="4.6" fill="url(#g107)"/>
<rect x="40" width="300" y="492" height="4.6" fill="url(#g108)"/>
<rect x="40" width="300" y="496" height="4.6" fill="url(#g109)"/>
<rect x="40" width="300" y="500" height="4.6" fill="url(#g110)"/>
<rect x="40" width="300" y="504" height="4.6" fill="url(#g111)"/>
<rect x="40" width="300" y="508" height="4.6" fill="url(#g112)"/>
<rect x="40" width="300" y="512" height="4.6" fill="url(#g113)"/>
<rect x="40" width="300" y="516" height="4.6" fill="url(#g114)"/>
<rect x="40" width="300" y="520" height="4.6" fill="url(#g115)"/>
<rect x="40" width="300" y="524" height="4.6" fill="url(#g116)"/>
<rect x="40" width="300" y="528" height="4.6" fill="url(#g117)"/>
<rect x="40" width="300" y="532" height="4.6" fill="url(#g118)"/>
<rect x="40" width="300" y="536" height="4.6" fill="url(#g119)"/>
<rect x="40" width="300" y="540" height="4.6" fill="url(#g120)"/>
<rect x="40" width="300" y="544" height="4.6" fill="url(#g121)"/>
<rect x="40" width="300" y="548" height="4.6" fill="url(#g122)"/>
<rect x="40" width="300" y="552" height="4.6" fill="url(#g123)"/>
<rect x="40" width="300" y="556" height="4.6" fill="url(#g124)"/>
<rect x="40" width="300" y="560" height="4.6" fill="url(#g125)"/>
<rect x="40" width="300" y="564" height="4.6" fill="url(#g126)"/>
<rect x="40" width="300" y="568" height="4.6" fill="url(#g127)"/>
<rect x="40" width="300" y="572" height="4.6" fill="url(#g128)"/>
<rect x="40" width="300" y="576" height="4.6" fill="url(#g129)"/>
<rect x="40" width="300" y="580" height="4.6" fill="url(#g130)"/>
<rect x="40" width="300" y="584" height="4.6" fill="url(#g131)"/>
<rect x="40" width="300" y="588" height="4.6" fill="url(#g132)"/>
<rect x="40" width="300" y="592" height="4.6" fill="url(#g133)"/>
<rect x="40" width="300" y="596" height="4.6" fill="url(#g134)"/>
<rect x="40" width="300" y="600" height="4.6" fill="url(#g135)"/>
<rect x="40" width="300" y="604" height="4.6" fill="url(#g136)"/>
<rect x="40" width="300" y="608" height="4.6" fill="url(#g137)"/>
<rect x="40" width="300" y="612" height="4.6" fill="url(#g138)"/>
<rect x="40" width="300" y="616" height="4.6" fill="url(#g139)"/>
<rect x="40" width="300" y="620" height="4.6" fill="url(#g140)"/>
<rect x="40" width="300" y="624" height="4.6" fill="url(#g141)"/>
<rect x="40" width="300" y="628" height="4.6" fill="url(#g142)"/>
<rect x="40" width="300" y="632" height="4.6" fill="url(#g143)"/>
<rect x="40" width="300" y="636" height="4.6" fill="url(#g144)"/>
<rect x="40" width="300" y="640" height="4.6" fill="url(#g145)"/>
<rect x="40" width="300" y="644" height="4.6" fill="url(#g146)"/>
<rect x="40" width="300" y="648" height="4.6" fill="url(#g147)"/>
<rect x="40" width="300" y="652" height="4.6" fill="url(#g148)"/>
<rect x="40" width="300" y="656" height="4.6" fill="url(#g149)"/>
<rect x="40" width="300" y="660" height="4.6" fill="url(#g150)"/>
<rect x="40" width="300" y="664" height="4.6" fill="url(#g151)"/>
<rect x="40" width="300" y="668" height="4.6" fill="url(#g152)"/>
<rect x="40" width="300" y="672" height="4.6" fill="url(#g153)"/>
<rect x="40" width="300" y="676" height="4.6" fill="url(#g154)"/>
<rect x="40" width="300" y="680" height="4.6" fill="url(#g155)"/>
<rect x="40" width="300" y="684" height="4.6" fill="url(#g156)"/>
<rect x="40" width="300" y="688" height="4.6" fill="url(#g157)"/>
<rect x="40" width="300" y="692" height="4.6" fill="url(#g158)"/>
<rect x="40" width="300" y="696" height="4.6" fill="url(#g159)"/>
<rect x="40" width="300" y="700" height="4.6" fill="url(#g160)"/>
<rect x="40" width="300" y="704" height="4.6" fill="url(#g161)"/>
<rect x="40" width="300" y="708" height="4.6" fill="url(#g162)"/>
<rect x="40" width="300" y="712" height="4.6" fill="url(#g163)"/>
<rect x="40" width="300" y="716" height="4.6" fill="url(#g164)"/>
<rect x="40" width="300" y="720" height="4.6" fill="url(#g165)"/>
<rect x="40" width="300" y="724" height="4.6" fill="url(#g166)"/>
<rect x="40" width="300" y="728" height="4.6" fill="url(#g167)"/>
<rect x="40" width="300" y="732" height="4.6" fill="url(#g168)"/>
<rect x="40" width="300" y="736" height="4.6" fill="url(#g169)"/>
<rect x="40" width="300" y="740" height="4.6" fill="url(#g170)"/>
<rect x="40" width="300" y="744" height="4.6" fill="url(#g171)"/>
<rect x="40" width="300" y="748" height="4.6" fill="url(#g172)"/>
<rect x="40" width="300" y="752" height="4.6" fill="url(#g173)"/>
<rect x="40" width="300" y="756" height="4.6" fill="url(#g174)"/>
<rect x="40" width="300" y="760" height="4.6" fill="url(#g175)"/>
<rect x="40" width="300" y="764" height="4.6" fill="url(#g176)"/>
<rect x="40" width="300" y="768" height="4.6" fill="url(#g177)"/>
<rect x="40" width="300" y="772" height="4.6" fill="url(#g178)"/>
<rect x="40" width="300" y="776" height="4.6" fill="url(#g179)"/>
<rect x="40" width="300" y="780" height="4.6" fill="url(#g180)"/>
<rect x="40" width="300" y="784" height="4.6" fill="url(#g181)"/>
<rect x="40" width="300" y="788" height="4.6" fill="url(#g182)"/>
<rect x="40" width="300" y="792" height="4.6" fill="url(#g183)"/>
<rect x="40" width="300" y="796" height="4.6" fill="url(#g184)"/>
<rect x="40" width="300" y="800" height="4.6" fill="url(#g185)"/>
<rect x="40" width="300" y="804" height="4.6" fill="#2c0c10"/>
<rect x="40" width="300" y="808" height="4.6" fill="#2c0c10"/>
<rect x="40" width="300" y="812" height="4.6" fill="#2c0c10"/>
<rect x="40" width="300" y="816" height="4.6" fill="#2c0c10"/>
<rect x="40" width="300" y="820" height="4.6" fill="#2c0c10"/>
<rect x="40" width="300" y="824" height="4.6" fill="#2c0c10"/>
<rect x="40" width="300" y="828" height="4.6" fill="#2c0c10"/>
<rect x="40" width="300" y="832" height="4.6" fill="#2c0c10"/>
<rect x="40" width="300" y="836" height="4.6" fill="#2c0c10"/>
<rect x="40" width="300" y="840" height="4.6" fill="#2c0c10"/>
<rect x="40" width="300" y="844" height="4.6" fill="#2c0c10"/>
<rect x="40" width="300" y="848" height="4.6" fill="#2c0c10"/>
<rect x="40" width="300" y="852" height="4.6" fill="#2c0c10"/>
<rect x="40" width="300" y="856" height="4.6" fill="#2c0c10"/>
<rect x="40" width="300" y="860" height="4.6" fill="#2c0c10"/>
<rect x="40" width="300" y="864" height="4.6" fill="#2c0c10"/>
<rect x="40" width="300" y="868" height="4.6" fill="#2c0c10"/>
<rect x="40" width="300" y="872" height="4.6" fill="#2c0c10"/>
<rect x="40" width="300" y="876" height="4.6" fill="#2c0c10"/>
<rect x="40" width="300" y="880" height="4.6" fill="#2c0c10"/>
<rect x="40" width="300" y="884" height="4.6" fill="#2c0c10"/>
<rect x="40" width="300" y="888" height="4.6" fill="#2c0c10"/>
<rect x="40" width="300" y="892" height="4.6" fill="#2c0c10"/>
<rect x="40" width="300" y="896" height="4.6" fill="#2c0c10"/>
<rect x="40" width="300" y="900" height="4.6" fill="#2c0c10"/>
<rect x="40" width="300" y="904" height="4.6" fill="#2c0c10"/>
<rect x="40" width="300" y="908" height="4.6" fill="#2c0c10"/>
   </g>
  </g>
  <g fill="none" stroke="#1c1512" stroke-linecap="round" stroke-linejoin="round">
   <path d="M83.5 281.2L88.1 288L91.5 294L94.4 300L96.9 306L99 312L100.7 318L102.2 324L103.4 330L104.5 336L105.4 342L106.2 348L106.8 354L107.3 360L107.8 366L108.1 372L108.3 378L108.5 384L108.7 390L108.8 396L108.8 402L108.8 408L108.8 410M107 226.5L110.6 234L113.1 240L115.3 246L117.2 252L118.8 258L120.2 264L121.4 270L122.4 276L123.3 282L124 288L124.5 294L125 300L125.3 306L125.5 312L125.6 318L125.7 324L125.7 330L125.6 336L125.4 342L125.2 348L125 354L124.7 360L124.4 366L124.1 372L123.8 378L123.5 384L123.2 390L122.8 396L122.5 402L122.1 408L122 410M134 175.5L135.6 180L137.5 186L139.2 192L140.8 198L142.2 204L143.5 210L144.6 216L145.5 222L146.3 228L147 234L147.6 240L148 246L148.4 252L148.6 258L148.7 264L148.8 270L148.7 276L148.6 282L148.4 288L148.1 294L147.7 300L147.3 306L146.8 312L146.3 318L145.7 324L145.1 330L144.4 336L143.8 342L143 348L142.3 354L141.6 360L140.8 366L140 372L139.2 378L138.5 384L137.7 390L136.8 396L136 402L135.2 408L135 410M168.5 128.5L169.2 132L170.3 138L171.3 144L172.1 150L172.9 156L173.6 162L174.1 168L174.6 174L175 180L175.2 186L175.4 192L175.5 198L175.6 204L175.5 210L175.4 216L175.2 222L174.9 228L174.6 234L174.2 240L173.7 246L173.2 252L172.6 258L172 264L171.4 270L170.7 276L169.9 282L169.1 288L168.3 294L167.4 300L166.5 306L165.6 312L164.6 318L163.6 324L162.6 330L161.6 336L160.5 342L159.5 348L158.4 354L157.3 360L156.2 366L155.1 372L154 378L152.9 384L151.8 390L150.7 396L149.6 402L148.5 408L148.2 410M208.2 101.2L208.9 108L209.4 114L209.8 120L210.2 126L210.4 132L210.6 138L210.7 144L210.7 150L210.7 156L210.6 162L210.4 168L210.1 174L209.8 180L209.4 186L208.9 192L208.3 198L207.7 204L207.1 210L206.4 216L205.6 222L204.8 228L203.9 234L203 240L202 246L201 252L199.9 258L198.8 264L197.6 270L196.4 276L195.2 282L193.9 288L192.6 294L191.3 300L189.9 306L188.5 312L187.1 318L185.6 324L184.1 330L182.6 336L181.1 342L179.6 348L178 354L176.5 360L174.9 366L173.3 372L171.8 378L170.2 384L168.6 390L167 396L165.4 402L163.7 408L163.2 410M248.9 84.3L248.8 90L248.6 96L248.4 102L248.1 108L247.8 114L247.5 120L247.1 126L246.6 132L246.1 138L245.5 144L244.9 150L244.3 156L243.6 162L242.8 168L242 174L241.2 180L240.3 186L239.4 192L238.4 198L237.3 204L236.2 210L235 216L233.8 222L232.6 228L231.3 234L229.9 240L228.5 246L227 252L225.5 258L224 264L222.3 270L220.7 276L219 282L217.2 288L215.4 294L213.6 300L211.7 306L209.8 312L207.9 318L205.9 324L204 330L202 336L200.1 342L198.2 348L196.3 354L194.4 360L192.5 366L190.7 372L188.8 378L186.9 384L185 390L182.9 396L180.9 402L178.7 408L178 410M285.2 78.4L285.2 84L285.2 90L285 96L284.8 102L284.5 108L284.1 114L283.6 120L283.1 126L282.4 132L281.8 138L281 144L280.2 150L279.4 156L278.5 162L277.5 168L276.5 174L275.4 180L274.3 186L273.1 192L271.8 198L270.5 204L269 210L267.5 216L266 222L264.3 228L262.5 234L260.7 240L258.8 246L256.8 252L254.7 258L252.6 264L250.4 270L248.2 276L245.9 282L243.6 288L241.3 294L238.9 300L236.5 306L234.1 312L231.6 318L229.2 324L226.7 330L224.3 336L221.9 342L219.4 348L217 354L214.6 360L212.2 366L209.9 372L207.5 378L205.2 384L202.9 390L200.6 396L198.4 402L196.1 408L195.4 410" stroke-width="3.8"/>
   <path d="M108.8 404L108.8 408L108.8 414L108.8 420L108.8 426L108.7 432L108.6 438L108.5 444L108.4 450L108.3 456L108.1 462L108 468L107.8 474L107.7 480L107.5 486L107.3 492L107.2 498L107.1 500M122.3 404L122.1 408L121.7 414L121.3 420L120.9 426L120.6 432L120.2 438L119.8 444L119.4 450L119 456L118.6 462L118.2 468L117.8 474L117.4 480L117 486L116.6 492L116.3 498L116.2 500M135.8 404L135.2 408L134.5 414L133.7 420L132.9 426L132.1 432L131.4 438L130.7 444L130 450L129.3 456L128.6 462L128 468L127.3 474L126.7 480L126.2 486L125.6 492L125.1 498L124.9 500M149.2 404L148.5 408L147.4 414L146.4 420L145.3 426L144.3 432L143.3 438L142.3 444L141.3 450L140.4 456L139.4 462L138.5 468L137.7 474L136.9 480L136.1 486L135.3 492L134.6 498L134.4 500M164.8 404L163.7 408L162.1 414L160.4 420L158.8 426L157.2 432L155.6 438L154 444L152.6 450L151.2 456L149.8 462L148.6 468L147.4 474L146.3 480L145.3 486L144.3 492L143.4 498L143.1 500M180.2 404L178.7 408L176.6 414L174.5 420L172.4 426L170.5 432L168.6 438L166.9 444L165.2 450L163.6 456L162.1 462L160.6 468L159.3 474L158 480L156.7 486L155.5 492L154.4 498L154 500M197.6 404L196.1 408L193.9 414L191.7 420L189.5 426L187.3 432L185.2 438L183.1 444L181 450L179 456L177 462L175 468L173.2 474L171.4 480L169.6 486L168 492L166.4 498L165.9 500" stroke-width="3.5"/>
   <path d="M107.3 494L107.2 498L107 504L106.8 510L106.6 516L106.4 522L106.3 528L106.1 534L105.9 540L105.8 546L105.6 552L105.4 558L105.3 564L105.1 570L105 576L104.9 582L104.7 588L104.7 590M116.5 494L116.3 498L115.9 504L115.6 510L115.3 516L114.9 522L114.6 528L114.3 534L114.1 540L113.8 546L113.6 552L113.3 558L113.1 564L112.9 570L112.7 576L112.5 582L112.4 588L112.3 590M125.4 494L125.1 498L124.6 504L124.1 510L123.6 516L123.1 522L122.7 528L122.3 534L121.9 540L121.6 546L121.2 552L120.9 558L120.6 564L120.4 570L120.1 576L119.9 582L119.6 588L119.6 590M135.1 494L134.6 498L133.9 504L133.3 510L132.7 516L132.1 522L131.5 528L131 534L130.5 540L130.1 546L129.6 552L129.2 558L128.9 564L128.5 570L128.2 576L127.9 582L127.6 588L127.5 590M144 494L143.4 498L142.5 504L141.8 510L141 516L140.3 522L139.7 528L139.1 534L138.6 540L138.1 546L137.6 552L137.2 558L136.8 564L136.5 570L136.2 576L135.9 582L135.6 588L135.6 590M155.2 494L154.4 498L153.3 504L152.3 510L151.4 516L150.4 522L149.6 528L148.8 534L148 540L147.3 546L146.6 552L146 558L145.4 564L144.9 570L144.4 576L144 582L143.5 588L143.4 590M167.4 494L166.4 498L164.9 504L163.4 510L162.1 516L160.8 522L159.6 528L158.4 534L157.3 540L156.4 546L155.5 552L154.6 558L153.9 564L153.2 570L152.6 576L152.1 582L151.7 588L151.6 590" stroke-width="3.2"/>
   <path d="M104.8 584L104.7 588L104.6 594L104.5 600L104.4 606L104.3 612L104.3 618L104.2 624L104.1 630L104.1 636L104 642L103.9 648L103.9 654L103.9 660L103.8 666L103.8 672L103.8 678L103.8 684L103.7 690L103.7 696L103.7 700L103.7 912M112.5 584L112.4 588L112.2 594L112 600L111.9 606L111.8 612L111.7 618L111.5 624L111.4 630L111.4 636L111.3 642L111.2 648L111.1 654L111.1 660L111 666L111 672L110.9 678L110.9 684L110.9 690L110.8 696L110.8 700L110.8 912M119.8 584L119.6 588L119.4 594L119.3 600L119.1 606L118.9 612L118.8 618L118.7 624L118.5 630L118.4 636L118.4 642L118.3 648L118.2 654L118.2 660L118.1 666L118.1 672L118.1 678L118.1 684L118 690L118 696L118 700L118 912M127.8 584L127.6 588L127.4 594L127.1 600L126.9 606L126.7 612L126.5 618L126.4 624L126.2 630L126.1 636L126 642L125.9 648L125.9 654L125.8 660L125.8 666L125.7 672L125.7 678L125.7 684L125.7 690L125.7 696L125.7 700L125.7 912M135.8 584L135.6 588L135.4 594L135.2 600L135 606L134.9 612L134.7 618L134.6 624L134.5 630L134.3 636L134.2 642L134.1 648L134 654L133.9 660L133.8 666L133.7 672L133.7 678L133.6 684L133.5 690L133.4 696L133.4 700L133.4 912M143.8 584L143.5 588L143.2 594L142.8 600L142.5 606L142.2 612L142 618L141.8 624L141.6 630L141.4 636L141.3 642L141.2 648L141.1 654L141 660L141 666L140.9 672L140.9 678L140.9 684L141 690L141 696L141 700L141 912M152 584L151.7 588L151.3 594L151 600L150.8 606L150.6 612L150.4 618L150.3 624L150.1 630L150 636L149.9 642L149.7 648L149.6 654L149.4 660L149.3 666L149.1 672L149 678L148.8 684L148.7 690L148.5 696L148.4 700L148.2 912" stroke-width="3"/>
  </g>
 </g>
 <g id="disc" transform="translate(126 818.2)">
  <circle r="36" fill="#d5dc27" stroke="#231a14" stroke-width="3.5"/>
  <g id="arw" fill="#231f16">
   <path d="M1.1 -21.9A21.9 21.9 0 0 1 21.2 5.4" fill="none" stroke="#231f16" stroke-width="3.8"/>
   <path d="M15.8 3.9L19.8 6L25.8 6.8L18.6 13Z"/>
  </g>
  <g fill="#231f16" transform="rotate(175)">
   <path d="M5.1 -21.3A21.9 21.9 0 0 1 21.2 5.4" fill="none" stroke="#231f16" stroke-width="3.8"/>
   <path d="M15.8 3.9L19.8 6L25.8 6.8L18.6 13Z"/>
  </g>
 </g>
</g>
<g id="sq"><rect x="1" y="2" width="45" height="45.5" fill="#8a8a90" opacity=".42" filter="url(#sh)"/><rect x="-3" y="-3" width="47.6" height="49" fill="#fff"/></g>
</defs>

<!-- flight shapes -->
<use href="#flight"/>
<use href="#flight" transform="matrix(-1 0 0 1 628 0)"/>

<!-- title IMPULSE -->
<g fill="#4b4b4d">
 <rect x="31.4" y="23.6" width="6" height="45"/>
 <path d="M43.4 68.6V23.6H50.5L58.5 58L66.5 23.6H73.6V68.6H67.6V38L60.7 68.6H56.3L49.4 38V68.6Z"/>
 <path fill-rule="evenodd" d="M79.6 68.6V23.6H88C95 23.6 98 28 98 36C98 44 95 48.4 88 48.4H85.6V68.6ZM85.6 29V43H87.5C91 43 92 40.5 92 36C92 31.5 91 29 87.5 29Z"/>
 <path d="M103.6 23.6V58C103.6 65.5 107 69.4 113.3 69.4C119.6 69.4 123 65.5 123 58V23.6H117V58C117 62 116 63.8 113.3 63.8C110.6 63.8 109.6 62 109.6 58V23.6Z"/>
 <path d="M130 23.6H136V63H146.4V68.6H130Z"/>
 <path d="M166 32C165.2 27.6 163.2 26 160.3 26C156.6 26 154.2 28.8 154.2 33.2C154.2 37.8 156.4 40.6 160.6 45.4C165 50.4 166.6 53.6 166.6 58C166.6 63.2 164 66.4 160.3 66.4C156.6 66.4 154.6 63.8 154 59.6" fill="none" stroke="#4b4b4d" stroke-width="6"/>
 <path d="M174 23.6H189.6V29.2H180V42.5H187.6V48H180V63H189.6V68.6H174Z"/>
</g>

<!-- legend squares -->
<use href="#sq" x="621.4" y="166.4"/><rect x="621.4" y="166.4" width="41.6" height="42.8" fill="#94d6f2"/>
<use href="#sq" x="619.4" y="338.4"/><rect x="619.4" y="338.4" width="41.6" height="43.2" fill="#f3ea27"/>
<use href="#sq" x="623.6" y="529.8"/><rect x="623.6" y="529.8" width="41.2" height="42.8" fill="#e02328"/>
<use href="#sq" x="623.6" y="753.4"/><rect x="623.6" y="753.4" width="41.2" height="43.2" fill="#231f20"/>

<g opacity=".999">
<!-- legend text -->
<text class="b" x="614.6" y="128.5" font-size="30" textLength="327.6" lengthAdjust="spacing">Phases of Flight</text>

<text x="686.4" y="201.6" font-size="33.8" class="h" textLength="92.6" lengthAdjust="spacingAndGlyphs">GYRO</text>
<text x="778.9" y="185.4" font-size="16" class="r" textLength="13.6" lengthAdjust="spacingAndGlyphs">®</text>
<text x="804" y="201.6" font-size="33" class="h" textLength="72.8" lengthAdjust="spacingAndGlyphs">Fade</text>
<text x="616.4" y="250.2" font-size="23" textLength="313" lengthAdjust="spacingAndGlyphs">Forward fade at spindown</text>

<text x="687" y="374" font-size="33" class="h" textLength="283" lengthAdjust="spacingAndGlyphs">Aerodynamic Fade</text>
<text x="616.6" y="430" font-size="23" textLength="239.4" lengthAdjust="spacingAndGlyphs">Disc pulls out of turn</text>
<text x="617.6" y="461" font-size="23" textLength="206" lengthAdjust="spacingAndGlyphs">as spin decreases</text>

<text x="687" y="562" font-size="33" class="h" textLength="273" lengthAdjust="spacingAndGlyphs">Aerodynamic Turn</text>
<text x="618" y="617" font-size="23" textLength="240" lengthAdjust="spacingAndGlyphs">Aerodynamic profile</text>
<text x="618" y="648" font-size="23" textLength="235.6" lengthAdjust="spacingAndGlyphs">turns disc during the</text>
<text x="617" y="678.8" font-size="23" textLength="256.6" lengthAdjust="spacingAndGlyphs">late high-speed phase</text>

<text x="687" y="787" font-size="33.8" class="h" textLength="91.8" lengthAdjust="spacingAndGlyphs">GYRO</text>
<text x="778.7" y="770.9" font-size="16" class="r" textLength="13.6" lengthAdjust="spacingAndGlyphs">®</text>
<text x="804.8" y="787" font-size="33" class="h" textLength="63.6" lengthAdjust="spacingAndGlyphs">Push</text>
<text x="616" y="840" font-size="23" textLength="261" lengthAdjust="spacingAndGlyphs">Inertia carries the disc</text>
<text x="618" y="871" font-size="23" textLength="250" lengthAdjust="spacingAndGlyphs">forward during initial</text>
<text x="617" y="902" font-size="23" textLength="205" lengthAdjust="spacingAndGlyphs">high-speed phase</text>

<!-- hand labels -->
<text x="181.4" y="827.7" font-size="20" textLength="59.6" lengthAdjust="spacingAndGlyphs">RHBH</text>
<text x="181.4" y="852.6" font-size="20" textLength="57" lengthAdjust="spacingAndGlyphs">LHFH</text>
<text x="373" y="827.8" font-size="20" textLength="57.8" lengthAdjust="spacingAndGlyphs">LHBH</text>
<text x="373" y="853" font-size="20" textLength="57.8" lengthAdjust="spacingAndGlyphs">RHFH</text>

<!-- power level -->
<g fill="#231f20">
 <rect x="100.2" y="932.9" width="3.6" height="10.4"/>
 <rect x="109.4" y="930.2" width="3.6" height="13.1"/>
 <rect x="118.5" y="926.6" width="3.6" height="16.7"/>
 <rect x="127.6" y="923" width="3.6" height="20.3"/>
 <rect x="136.6" y="920.3" width="3.6" height="23"/>
 <rect x="145.6" y="916.7" width="3.6" height="26.6"/>
 <path d="M88.9 929.3H76.3V965.7H93.4V962.2H79.9V932.9H88.9Z"/>
</g>
<text x="97.4" y="969.2" font-size="21.5" textLength="122.6" lengthAdjust="spacingAndGlyphs">Power Level</text>

<!-- direction of spin -->
<g fill="#231f20">
 <rect x="479.2" y="916.8" width="3.6" height="26.6"/>
 <rect x="488.3" y="920.2" width="3.6" height="23.2"/>
 <rect x="497.3" y="923.8" width="3.6" height="19.6"/>
 <rect x="506.1" y="927.2" width="3.6" height="16.2"/>
 <rect x="515.1" y="930" width="3.6" height="13.4"/>
 <rect x="524.1" y="933.4" width="3.6" height="10"/>
 <path d="M455.8 818.7H444.6V965.8H461.4V962.2H448.2V822.3H455.8Z"/>
</g>
<text x="471.2" y="970" font-size="21.5" textLength="155.8" lengthAdjust="spacingAndGlyphs">Direction of Spin</text>
</g>
</svg>
</body>
</html>
